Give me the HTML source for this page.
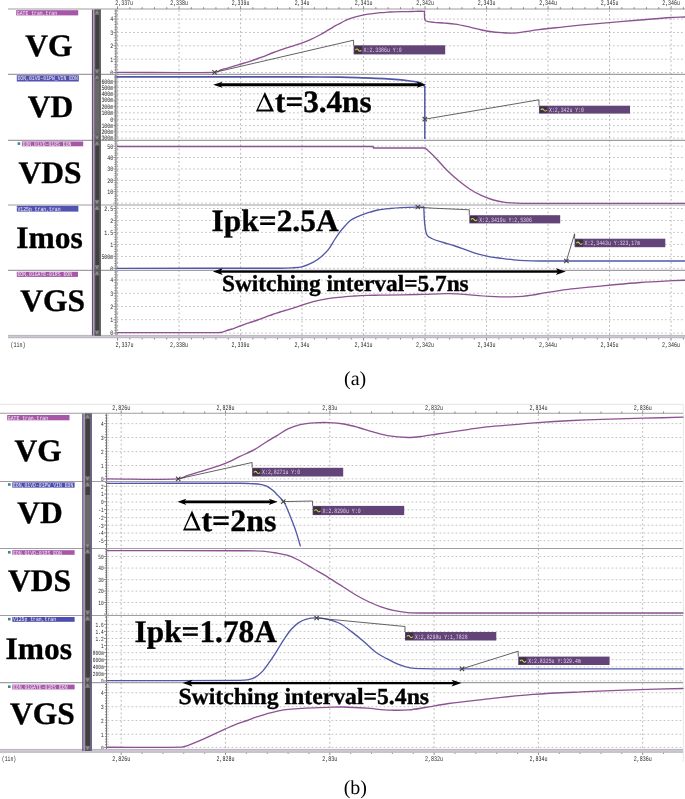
<!DOCTYPE html>
<html><head><meta charset="utf-8"><style>
html,body{margin:0;padding:0;background:#fff;}
svg{display:block;will-change:transform;filter:blur(0.45px);}
text{text-rendering:geometricPrecision;}
</style></head><body>
<svg width="685" height="799" viewBox="0 0 685 799">
<rect width="685" height="799" fill="#fff"/>
<line x1="117" y1="19.1" x2="685" y2="19.1" stroke="#bcbcbc" stroke-width="0.9" stroke-dasharray="1.7,2.3" />
<line x1="117" y1="32.5" x2="685" y2="32.5" stroke="#bcbcbc" stroke-width="0.9" stroke-dasharray="1.7,2.3" />
<line x1="117" y1="45.8" x2="685" y2="45.8" stroke="#bcbcbc" stroke-width="0.9" stroke-dasharray="1.7,2.3" />
<line x1="117" y1="59.2" x2="685" y2="59.2" stroke="#bcbcbc" stroke-width="0.9" stroke-dasharray="1.7,2.3" />
<line x1="117" y1="72.5" x2="685" y2="72.5" stroke="#bcbcbc" stroke-width="0.9" stroke-dasharray="1.7,2.3" />
<line x1="117" y1="81.4" x2="685" y2="81.4" stroke="#bcbcbc" stroke-width="0.9" stroke-dasharray="1.7,2.3" />
<line x1="117" y1="87.5" x2="685" y2="87.5" stroke="#bcbcbc" stroke-width="0.9" stroke-dasharray="1.7,2.3" />
<line x1="117" y1="93.8" x2="685" y2="93.8" stroke="#bcbcbc" stroke-width="0.9" stroke-dasharray="1.7,2.3" />
<line x1="117" y1="100.1" x2="685" y2="100.1" stroke="#bcbcbc" stroke-width="0.9" stroke-dasharray="1.7,2.3" />
<line x1="117" y1="106.6" x2="685" y2="106.6" stroke="#bcbcbc" stroke-width="0.9" stroke-dasharray="1.7,2.3" />
<line x1="117" y1="112.9" x2="685" y2="112.9" stroke="#bcbcbc" stroke-width="0.9" stroke-dasharray="1.7,2.3" />
<line x1="117" y1="119.3" x2="685" y2="119.3" stroke="#bcbcbc" stroke-width="0.9" stroke-dasharray="1.7,2.3" />
<line x1="117" y1="125.6" x2="685" y2="125.6" stroke="#bcbcbc" stroke-width="0.9" stroke-dasharray="1.7,2.3" />
<line x1="117" y1="131.8" x2="685" y2="131.8" stroke="#bcbcbc" stroke-width="0.9" stroke-dasharray="1.7,2.3" />
<line x1="117" y1="138.1" x2="685" y2="138.1" stroke="#bcbcbc" stroke-width="0.9" stroke-dasharray="1.7,2.3" />
<line x1="117" y1="146.2" x2="685" y2="146.2" stroke="#bcbcbc" stroke-width="0.9" stroke-dasharray="1.7,2.3" />
<line x1="117" y1="157.5" x2="685" y2="157.5" stroke="#bcbcbc" stroke-width="0.9" stroke-dasharray="1.7,2.3" />
<line x1="117" y1="169" x2="685" y2="169" stroke="#bcbcbc" stroke-width="0.9" stroke-dasharray="1.7,2.3" />
<line x1="117" y1="180.4" x2="685" y2="180.4" stroke="#bcbcbc" stroke-width="0.9" stroke-dasharray="1.7,2.3" />
<line x1="117" y1="191.7" x2="685" y2="191.7" stroke="#bcbcbc" stroke-width="0.9" stroke-dasharray="1.7,2.3" />
<line x1="117" y1="203.1" x2="685" y2="203.1" stroke="#bcbcbc" stroke-width="0.9" stroke-dasharray="1.7,2.3" />
<line x1="117" y1="208.5" x2="685" y2="208.5" stroke="#bcbcbc" stroke-width="0.9" stroke-dasharray="1.7,2.3" />
<line x1="117" y1="220.5" x2="685" y2="220.5" stroke="#bcbcbc" stroke-width="0.9" stroke-dasharray="1.7,2.3" />
<line x1="117" y1="232.4" x2="685" y2="232.4" stroke="#bcbcbc" stroke-width="0.9" stroke-dasharray="1.7,2.3" />
<line x1="117" y1="244.4" x2="685" y2="244.4" stroke="#bcbcbc" stroke-width="0.9" stroke-dasharray="1.7,2.3" />
<line x1="117" y1="256.5" x2="685" y2="256.5" stroke="#bcbcbc" stroke-width="0.9" stroke-dasharray="1.7,2.3" />
<line x1="117" y1="268.3" x2="685" y2="268.3" stroke="#bcbcbc" stroke-width="0.9" stroke-dasharray="1.7,2.3" />
<line x1="117" y1="280" x2="685" y2="280" stroke="#bcbcbc" stroke-width="0.9" stroke-dasharray="1.7,2.3" />
<line x1="117" y1="293.3" x2="685" y2="293.3" stroke="#bcbcbc" stroke-width="0.9" stroke-dasharray="1.7,2.3" />
<line x1="117" y1="306.5" x2="685" y2="306.5" stroke="#bcbcbc" stroke-width="0.9" stroke-dasharray="1.7,2.3" />
<line x1="117" y1="319.7" x2="685" y2="319.7" stroke="#bcbcbc" stroke-width="0.9" stroke-dasharray="1.7,2.3" />
<line x1="117" y1="333.1" x2="685" y2="333.1" stroke="#bcbcbc" stroke-width="0.9" stroke-dasharray="1.7,2.3" />
<line x1="117.55" y1="10" x2="117.55" y2="335.6" stroke="#acacac" stroke-width="0.9" stroke-dasharray="1.7,2.5" />
<line x1="179.05" y1="10" x2="179.05" y2="335.6" stroke="#acacac" stroke-width="0.9" stroke-dasharray="1.7,2.5" />
<line x1="240.55" y1="10" x2="240.55" y2="335.6" stroke="#acacac" stroke-width="0.9" stroke-dasharray="1.7,2.5" />
<line x1="302.05" y1="10" x2="302.05" y2="335.6" stroke="#acacac" stroke-width="0.9" stroke-dasharray="1.7,2.5" />
<line x1="363.55" y1="10" x2="363.55" y2="335.6" stroke="#acacac" stroke-width="0.9" stroke-dasharray="1.7,2.5" />
<line x1="425.05" y1="10" x2="425.05" y2="335.6" stroke="#acacac" stroke-width="0.9" stroke-dasharray="1.7,2.5" />
<line x1="486.55" y1="10" x2="486.55" y2="335.6" stroke="#acacac" stroke-width="0.9" stroke-dasharray="1.7,2.5" />
<line x1="548.05" y1="10" x2="548.05" y2="335.6" stroke="#acacac" stroke-width="0.9" stroke-dasharray="1.7,2.5" />
<line x1="609.55" y1="10" x2="609.55" y2="335.6" stroke="#acacac" stroke-width="0.9" stroke-dasharray="1.7,2.5" />
<line x1="671.05" y1="10" x2="671.05" y2="335.6" stroke="#acacac" stroke-width="0.9" stroke-dasharray="1.7,2.5" />
<line x1="114.4" y1="11.09" x2="116" y2="11.09" stroke="#707070" stroke-width="0.8" />
<line x1="117" y1="11.09" x2="118.2" y2="11.09" stroke="#b0b0b0" stroke-width="0.7" />
<line x1="114.4" y1="13.76" x2="116" y2="13.76" stroke="#707070" stroke-width="0.8" />
<line x1="117" y1="13.76" x2="118.2" y2="13.76" stroke="#b0b0b0" stroke-width="0.7" />
<line x1="114.4" y1="16.43" x2="116" y2="16.43" stroke="#707070" stroke-width="0.8" />
<line x1="117" y1="16.43" x2="118.2" y2="16.43" stroke="#b0b0b0" stroke-width="0.7" />
<line x1="113.4" y1="19.1" x2="116" y2="19.1" stroke="#707070" stroke-width="0.8" />
<line x1="117" y1="19.1" x2="118.2" y2="19.1" stroke="#b0b0b0" stroke-width="0.7" />
<line x1="114.4" y1="21.77" x2="116" y2="21.77" stroke="#707070" stroke-width="0.8" />
<line x1="117" y1="21.77" x2="118.2" y2="21.77" stroke="#b0b0b0" stroke-width="0.7" />
<line x1="114.4" y1="24.44" x2="116" y2="24.44" stroke="#707070" stroke-width="0.8" />
<line x1="117" y1="24.44" x2="118.2" y2="24.44" stroke="#b0b0b0" stroke-width="0.7" />
<line x1="114.4" y1="27.11" x2="116" y2="27.11" stroke="#707070" stroke-width="0.8" />
<line x1="117" y1="27.11" x2="118.2" y2="27.11" stroke="#b0b0b0" stroke-width="0.7" />
<line x1="114.4" y1="29.78" x2="116" y2="29.78" stroke="#707070" stroke-width="0.8" />
<line x1="117" y1="29.78" x2="118.2" y2="29.78" stroke="#b0b0b0" stroke-width="0.7" />
<line x1="113.4" y1="32.45" x2="116" y2="32.45" stroke="#707070" stroke-width="0.8" />
<line x1="117" y1="32.45" x2="118.2" y2="32.45" stroke="#b0b0b0" stroke-width="0.7" />
<line x1="114.4" y1="35.12" x2="116" y2="35.12" stroke="#707070" stroke-width="0.8" />
<line x1="117" y1="35.12" x2="118.2" y2="35.12" stroke="#b0b0b0" stroke-width="0.7" />
<line x1="114.4" y1="37.79" x2="116" y2="37.79" stroke="#707070" stroke-width="0.8" />
<line x1="117" y1="37.79" x2="118.2" y2="37.79" stroke="#b0b0b0" stroke-width="0.7" />
<line x1="114.4" y1="40.46" x2="116" y2="40.46" stroke="#707070" stroke-width="0.8" />
<line x1="117" y1="40.46" x2="118.2" y2="40.46" stroke="#b0b0b0" stroke-width="0.7" />
<line x1="114.4" y1="43.13" x2="116" y2="43.13" stroke="#707070" stroke-width="0.8" />
<line x1="117" y1="43.13" x2="118.2" y2="43.13" stroke="#b0b0b0" stroke-width="0.7" />
<line x1="113.4" y1="45.8" x2="116" y2="45.8" stroke="#707070" stroke-width="0.8" />
<line x1="117" y1="45.8" x2="118.2" y2="45.8" stroke="#b0b0b0" stroke-width="0.7" />
<line x1="114.4" y1="48.47" x2="116" y2="48.47" stroke="#707070" stroke-width="0.8" />
<line x1="117" y1="48.47" x2="118.2" y2="48.47" stroke="#b0b0b0" stroke-width="0.7" />
<line x1="114.4" y1="51.14" x2="116" y2="51.14" stroke="#707070" stroke-width="0.8" />
<line x1="117" y1="51.14" x2="118.2" y2="51.14" stroke="#b0b0b0" stroke-width="0.7" />
<line x1="114.4" y1="53.81" x2="116" y2="53.81" stroke="#707070" stroke-width="0.8" />
<line x1="117" y1="53.81" x2="118.2" y2="53.81" stroke="#b0b0b0" stroke-width="0.7" />
<line x1="114.4" y1="56.48" x2="116" y2="56.48" stroke="#707070" stroke-width="0.8" />
<line x1="117" y1="56.48" x2="118.2" y2="56.48" stroke="#b0b0b0" stroke-width="0.7" />
<line x1="113.4" y1="59.15" x2="116" y2="59.15" stroke="#707070" stroke-width="0.8" />
<line x1="117" y1="59.15" x2="118.2" y2="59.15" stroke="#b0b0b0" stroke-width="0.7" />
<line x1="114.4" y1="61.82" x2="116" y2="61.82" stroke="#707070" stroke-width="0.8" />
<line x1="117" y1="61.82" x2="118.2" y2="61.82" stroke="#b0b0b0" stroke-width="0.7" />
<line x1="114.4" y1="64.49" x2="116" y2="64.49" stroke="#707070" stroke-width="0.8" />
<line x1="117" y1="64.49" x2="118.2" y2="64.49" stroke="#b0b0b0" stroke-width="0.7" />
<line x1="114.4" y1="67.16" x2="116" y2="67.16" stroke="#707070" stroke-width="0.8" />
<line x1="117" y1="67.16" x2="118.2" y2="67.16" stroke="#b0b0b0" stroke-width="0.7" />
<line x1="114.4" y1="69.83" x2="116" y2="69.83" stroke="#707070" stroke-width="0.8" />
<line x1="117" y1="69.83" x2="118.2" y2="69.83" stroke="#b0b0b0" stroke-width="0.7" />
<line x1="113.4" y1="72.5" x2="116" y2="72.5" stroke="#707070" stroke-width="0.8" />
<line x1="117" y1="72.5" x2="118.2" y2="72.5" stroke="#b0b0b0" stroke-width="0.7" />
<text x="113.2" y="21.4" font-family="Liberation Mono" font-size="6.8" font-weight="normal" text-anchor="end" fill="#262626" textLength="2.95" lengthAdjust="spacingAndGlyphs" >4</text>
<text x="113.2" y="34.8" font-family="Liberation Mono" font-size="6.8" font-weight="normal" text-anchor="end" fill="#262626" textLength="2.95" lengthAdjust="spacingAndGlyphs" >3</text>
<text x="113.2" y="48.1" font-family="Liberation Mono" font-size="6.8" font-weight="normal" text-anchor="end" fill="#262626" textLength="2.95" lengthAdjust="spacingAndGlyphs" >2</text>
<text x="113.2" y="61.5" font-family="Liberation Mono" font-size="6.8" font-weight="normal" text-anchor="end" fill="#262626" textLength="2.95" lengthAdjust="spacingAndGlyphs" >1</text>
<text x="113.2" y="74.8" font-family="Liberation Mono" font-size="6.8" font-weight="normal" text-anchor="end" fill="#262626" textLength="2.95" lengthAdjust="spacingAndGlyphs" >0</text>
<line x1="114.4" y1="75.1" x2="116" y2="75.1" stroke="#707070" stroke-width="0.8" />
<line x1="117" y1="75.1" x2="118.2" y2="75.1" stroke="#b0b0b0" stroke-width="0.7" />
<line x1="114.4" y1="76.36" x2="116" y2="76.36" stroke="#707070" stroke-width="0.8" />
<line x1="117" y1="76.36" x2="118.2" y2="76.36" stroke="#b0b0b0" stroke-width="0.7" />
<line x1="114.4" y1="77.62" x2="116" y2="77.62" stroke="#707070" stroke-width="0.8" />
<line x1="117" y1="77.62" x2="118.2" y2="77.62" stroke="#b0b0b0" stroke-width="0.7" />
<line x1="114.4" y1="78.88" x2="116" y2="78.88" stroke="#707070" stroke-width="0.8" />
<line x1="117" y1="78.88" x2="118.2" y2="78.88" stroke="#b0b0b0" stroke-width="0.7" />
<line x1="114.4" y1="80.14" x2="116" y2="80.14" stroke="#707070" stroke-width="0.8" />
<line x1="117" y1="80.14" x2="118.2" y2="80.14" stroke="#b0b0b0" stroke-width="0.7" />
<line x1="113.4" y1="81.4" x2="116" y2="81.4" stroke="#707070" stroke-width="0.8" />
<line x1="117" y1="81.4" x2="118.2" y2="81.4" stroke="#b0b0b0" stroke-width="0.7" />
<line x1="114.4" y1="82.66" x2="116" y2="82.66" stroke="#707070" stroke-width="0.8" />
<line x1="117" y1="82.66" x2="118.2" y2="82.66" stroke="#b0b0b0" stroke-width="0.7" />
<line x1="114.4" y1="83.92" x2="116" y2="83.92" stroke="#707070" stroke-width="0.8" />
<line x1="117" y1="83.92" x2="118.2" y2="83.92" stroke="#b0b0b0" stroke-width="0.7" />
<line x1="114.4" y1="85.18" x2="116" y2="85.18" stroke="#707070" stroke-width="0.8" />
<line x1="117" y1="85.18" x2="118.2" y2="85.18" stroke="#b0b0b0" stroke-width="0.7" />
<line x1="114.4" y1="86.44" x2="116" y2="86.44" stroke="#707070" stroke-width="0.8" />
<line x1="117" y1="86.44" x2="118.2" y2="86.44" stroke="#b0b0b0" stroke-width="0.7" />
<line x1="113.4" y1="87.7" x2="116" y2="87.7" stroke="#707070" stroke-width="0.8" />
<line x1="117" y1="87.7" x2="118.2" y2="87.7" stroke="#b0b0b0" stroke-width="0.7" />
<line x1="114.4" y1="88.96" x2="116" y2="88.96" stroke="#707070" stroke-width="0.8" />
<line x1="117" y1="88.96" x2="118.2" y2="88.96" stroke="#b0b0b0" stroke-width="0.7" />
<line x1="114.4" y1="90.22" x2="116" y2="90.22" stroke="#707070" stroke-width="0.8" />
<line x1="117" y1="90.22" x2="118.2" y2="90.22" stroke="#b0b0b0" stroke-width="0.7" />
<line x1="114.4" y1="91.48" x2="116" y2="91.48" stroke="#707070" stroke-width="0.8" />
<line x1="117" y1="91.48" x2="118.2" y2="91.48" stroke="#b0b0b0" stroke-width="0.7" />
<line x1="114.4" y1="92.74" x2="116" y2="92.74" stroke="#707070" stroke-width="0.8" />
<line x1="117" y1="92.74" x2="118.2" y2="92.74" stroke="#b0b0b0" stroke-width="0.7" />
<line x1="113.4" y1="94" x2="116" y2="94" stroke="#707070" stroke-width="0.8" />
<line x1="117" y1="94" x2="118.2" y2="94" stroke="#b0b0b0" stroke-width="0.7" />
<line x1="114.4" y1="95.26" x2="116" y2="95.26" stroke="#707070" stroke-width="0.8" />
<line x1="117" y1="95.26" x2="118.2" y2="95.26" stroke="#b0b0b0" stroke-width="0.7" />
<line x1="114.4" y1="96.52" x2="116" y2="96.52" stroke="#707070" stroke-width="0.8" />
<line x1="117" y1="96.52" x2="118.2" y2="96.52" stroke="#b0b0b0" stroke-width="0.7" />
<line x1="114.4" y1="97.78" x2="116" y2="97.78" stroke="#707070" stroke-width="0.8" />
<line x1="117" y1="97.78" x2="118.2" y2="97.78" stroke="#b0b0b0" stroke-width="0.7" />
<line x1="114.4" y1="99.04" x2="116" y2="99.04" stroke="#707070" stroke-width="0.8" />
<line x1="117" y1="99.04" x2="118.2" y2="99.04" stroke="#b0b0b0" stroke-width="0.7" />
<line x1="113.4" y1="100.3" x2="116" y2="100.3" stroke="#707070" stroke-width="0.8" />
<line x1="117" y1="100.3" x2="118.2" y2="100.3" stroke="#b0b0b0" stroke-width="0.7" />
<line x1="114.4" y1="101.56" x2="116" y2="101.56" stroke="#707070" stroke-width="0.8" />
<line x1="117" y1="101.56" x2="118.2" y2="101.56" stroke="#b0b0b0" stroke-width="0.7" />
<line x1="114.4" y1="102.82" x2="116" y2="102.82" stroke="#707070" stroke-width="0.8" />
<line x1="117" y1="102.82" x2="118.2" y2="102.82" stroke="#b0b0b0" stroke-width="0.7" />
<line x1="114.4" y1="104.08" x2="116" y2="104.08" stroke="#707070" stroke-width="0.8" />
<line x1="117" y1="104.08" x2="118.2" y2="104.08" stroke="#b0b0b0" stroke-width="0.7" />
<line x1="114.4" y1="105.34" x2="116" y2="105.34" stroke="#707070" stroke-width="0.8" />
<line x1="117" y1="105.34" x2="118.2" y2="105.34" stroke="#b0b0b0" stroke-width="0.7" />
<line x1="113.4" y1="106.6" x2="116" y2="106.6" stroke="#707070" stroke-width="0.8" />
<line x1="117" y1="106.6" x2="118.2" y2="106.6" stroke="#b0b0b0" stroke-width="0.7" />
<line x1="114.4" y1="107.86" x2="116" y2="107.86" stroke="#707070" stroke-width="0.8" />
<line x1="117" y1="107.86" x2="118.2" y2="107.86" stroke="#b0b0b0" stroke-width="0.7" />
<line x1="114.4" y1="109.12" x2="116" y2="109.12" stroke="#707070" stroke-width="0.8" />
<line x1="117" y1="109.12" x2="118.2" y2="109.12" stroke="#b0b0b0" stroke-width="0.7" />
<line x1="114.4" y1="110.38" x2="116" y2="110.38" stroke="#707070" stroke-width="0.8" />
<line x1="117" y1="110.38" x2="118.2" y2="110.38" stroke="#b0b0b0" stroke-width="0.7" />
<line x1="114.4" y1="111.64" x2="116" y2="111.64" stroke="#707070" stroke-width="0.8" />
<line x1="117" y1="111.64" x2="118.2" y2="111.64" stroke="#b0b0b0" stroke-width="0.7" />
<line x1="113.4" y1="112.9" x2="116" y2="112.9" stroke="#707070" stroke-width="0.8" />
<line x1="117" y1="112.9" x2="118.2" y2="112.9" stroke="#b0b0b0" stroke-width="0.7" />
<line x1="114.4" y1="114.16" x2="116" y2="114.16" stroke="#707070" stroke-width="0.8" />
<line x1="117" y1="114.16" x2="118.2" y2="114.16" stroke="#b0b0b0" stroke-width="0.7" />
<line x1="114.4" y1="115.42" x2="116" y2="115.42" stroke="#707070" stroke-width="0.8" />
<line x1="117" y1="115.42" x2="118.2" y2="115.42" stroke="#b0b0b0" stroke-width="0.7" />
<line x1="114.4" y1="116.68" x2="116" y2="116.68" stroke="#707070" stroke-width="0.8" />
<line x1="117" y1="116.68" x2="118.2" y2="116.68" stroke="#b0b0b0" stroke-width="0.7" />
<line x1="114.4" y1="117.94" x2="116" y2="117.94" stroke="#707070" stroke-width="0.8" />
<line x1="117" y1="117.94" x2="118.2" y2="117.94" stroke="#b0b0b0" stroke-width="0.7" />
<line x1="113.4" y1="119.2" x2="116" y2="119.2" stroke="#707070" stroke-width="0.8" />
<line x1="117" y1="119.2" x2="118.2" y2="119.2" stroke="#b0b0b0" stroke-width="0.7" />
<line x1="114.4" y1="120.46" x2="116" y2="120.46" stroke="#707070" stroke-width="0.8" />
<line x1="117" y1="120.46" x2="118.2" y2="120.46" stroke="#b0b0b0" stroke-width="0.7" />
<line x1="114.4" y1="121.72" x2="116" y2="121.72" stroke="#707070" stroke-width="0.8" />
<line x1="117" y1="121.72" x2="118.2" y2="121.72" stroke="#b0b0b0" stroke-width="0.7" />
<line x1="114.4" y1="122.98" x2="116" y2="122.98" stroke="#707070" stroke-width="0.8" />
<line x1="117" y1="122.98" x2="118.2" y2="122.98" stroke="#b0b0b0" stroke-width="0.7" />
<line x1="114.4" y1="124.24" x2="116" y2="124.24" stroke="#707070" stroke-width="0.8" />
<line x1="117" y1="124.24" x2="118.2" y2="124.24" stroke="#b0b0b0" stroke-width="0.7" />
<line x1="113.4" y1="125.5" x2="116" y2="125.5" stroke="#707070" stroke-width="0.8" />
<line x1="117" y1="125.5" x2="118.2" y2="125.5" stroke="#b0b0b0" stroke-width="0.7" />
<line x1="114.4" y1="126.76" x2="116" y2="126.76" stroke="#707070" stroke-width="0.8" />
<line x1="117" y1="126.76" x2="118.2" y2="126.76" stroke="#b0b0b0" stroke-width="0.7" />
<line x1="114.4" y1="128.02" x2="116" y2="128.02" stroke="#707070" stroke-width="0.8" />
<line x1="117" y1="128.02" x2="118.2" y2="128.02" stroke="#b0b0b0" stroke-width="0.7" />
<line x1="114.4" y1="129.28" x2="116" y2="129.28" stroke="#707070" stroke-width="0.8" />
<line x1="117" y1="129.28" x2="118.2" y2="129.28" stroke="#b0b0b0" stroke-width="0.7" />
<line x1="114.4" y1="130.54" x2="116" y2="130.54" stroke="#707070" stroke-width="0.8" />
<line x1="117" y1="130.54" x2="118.2" y2="130.54" stroke="#b0b0b0" stroke-width="0.7" />
<line x1="113.4" y1="131.8" x2="116" y2="131.8" stroke="#707070" stroke-width="0.8" />
<line x1="117" y1="131.8" x2="118.2" y2="131.8" stroke="#b0b0b0" stroke-width="0.7" />
<line x1="114.4" y1="133.06" x2="116" y2="133.06" stroke="#707070" stroke-width="0.8" />
<line x1="117" y1="133.06" x2="118.2" y2="133.06" stroke="#b0b0b0" stroke-width="0.7" />
<line x1="114.4" y1="134.32" x2="116" y2="134.32" stroke="#707070" stroke-width="0.8" />
<line x1="117" y1="134.32" x2="118.2" y2="134.32" stroke="#b0b0b0" stroke-width="0.7" />
<line x1="114.4" y1="135.58" x2="116" y2="135.58" stroke="#707070" stroke-width="0.8" />
<line x1="117" y1="135.58" x2="118.2" y2="135.58" stroke="#b0b0b0" stroke-width="0.7" />
<line x1="114.4" y1="136.84" x2="116" y2="136.84" stroke="#707070" stroke-width="0.8" />
<line x1="117" y1="136.84" x2="118.2" y2="136.84" stroke="#b0b0b0" stroke-width="0.7" />
<line x1="113.4" y1="138.1" x2="116" y2="138.1" stroke="#707070" stroke-width="0.8" />
<line x1="117" y1="138.1" x2="118.2" y2="138.1" stroke="#b0b0b0" stroke-width="0.7" />
<line x1="114.4" y1="139.36" x2="116" y2="139.36" stroke="#707070" stroke-width="0.8" />
<line x1="117" y1="139.36" x2="118.2" y2="139.36" stroke="#b0b0b0" stroke-width="0.7" />
<text x="113.2" y="83.7" font-family="Liberation Mono" font-size="6.8" font-weight="normal" text-anchor="end" fill="#262626" textLength="11.8" lengthAdjust="spacingAndGlyphs" >600m</text>
<text x="113.2" y="89.8" font-family="Liberation Mono" font-size="6.8" font-weight="normal" text-anchor="end" fill="#262626" textLength="11.8" lengthAdjust="spacingAndGlyphs" >500m</text>
<text x="113.2" y="96.1" font-family="Liberation Mono" font-size="6.8" font-weight="normal" text-anchor="end" fill="#262626" textLength="11.8" lengthAdjust="spacingAndGlyphs" >400m</text>
<text x="113.2" y="102.4" font-family="Liberation Mono" font-size="6.8" font-weight="normal" text-anchor="end" fill="#262626" textLength="11.8" lengthAdjust="spacingAndGlyphs" >300m</text>
<text x="113.2" y="108.9" font-family="Liberation Mono" font-size="6.8" font-weight="normal" text-anchor="end" fill="#262626" textLength="11.8" lengthAdjust="spacingAndGlyphs" >200m</text>
<text x="113.2" y="115.2" font-family="Liberation Mono" font-size="6.8" font-weight="normal" text-anchor="end" fill="#262626" textLength="11.8" lengthAdjust="spacingAndGlyphs" >100m</text>
<text x="113.2" y="121.6" font-family="Liberation Mono" font-size="6.8" font-weight="normal" text-anchor="end" fill="#262626" textLength="2.95" lengthAdjust="spacingAndGlyphs" >0</text>
<text x="113.2" y="127.9" font-family="Liberation Mono" font-size="6.8" font-weight="normal" text-anchor="end" fill="#262626" textLength="14.75" lengthAdjust="spacingAndGlyphs" >-100m</text>
<text x="113.2" y="134.1" font-family="Liberation Mono" font-size="6.8" font-weight="normal" text-anchor="end" fill="#262626" textLength="14.75" lengthAdjust="spacingAndGlyphs" >-200m</text>
<text x="113.2" y="140.4" font-family="Liberation Mono" font-size="6.8" font-weight="normal" text-anchor="end" fill="#262626" textLength="14.75" lengthAdjust="spacingAndGlyphs" >-300m</text>
<line x1="114.4" y1="141.65" x2="116" y2="141.65" stroke="#707070" stroke-width="0.8" />
<line x1="117" y1="141.65" x2="118.2" y2="141.65" stroke="#b0b0b0" stroke-width="0.7" />
<line x1="114.4" y1="143.92" x2="116" y2="143.92" stroke="#707070" stroke-width="0.8" />
<line x1="117" y1="143.92" x2="118.2" y2="143.92" stroke="#b0b0b0" stroke-width="0.7" />
<line x1="113.4" y1="146.2" x2="116" y2="146.2" stroke="#707070" stroke-width="0.8" />
<line x1="117" y1="146.2" x2="118.2" y2="146.2" stroke="#b0b0b0" stroke-width="0.7" />
<line x1="114.4" y1="148.48" x2="116" y2="148.48" stroke="#707070" stroke-width="0.8" />
<line x1="117" y1="148.48" x2="118.2" y2="148.48" stroke="#b0b0b0" stroke-width="0.7" />
<line x1="114.4" y1="150.75" x2="116" y2="150.75" stroke="#707070" stroke-width="0.8" />
<line x1="117" y1="150.75" x2="118.2" y2="150.75" stroke="#b0b0b0" stroke-width="0.7" />
<line x1="114.4" y1="153.03" x2="116" y2="153.03" stroke="#707070" stroke-width="0.8" />
<line x1="117" y1="153.03" x2="118.2" y2="153.03" stroke="#b0b0b0" stroke-width="0.7" />
<line x1="114.4" y1="155.3" x2="116" y2="155.3" stroke="#707070" stroke-width="0.8" />
<line x1="117" y1="155.3" x2="118.2" y2="155.3" stroke="#b0b0b0" stroke-width="0.7" />
<line x1="113.4" y1="157.58" x2="116" y2="157.58" stroke="#707070" stroke-width="0.8" />
<line x1="117" y1="157.58" x2="118.2" y2="157.58" stroke="#b0b0b0" stroke-width="0.7" />
<line x1="114.4" y1="159.86" x2="116" y2="159.86" stroke="#707070" stroke-width="0.8" />
<line x1="117" y1="159.86" x2="118.2" y2="159.86" stroke="#b0b0b0" stroke-width="0.7" />
<line x1="114.4" y1="162.13" x2="116" y2="162.13" stroke="#707070" stroke-width="0.8" />
<line x1="117" y1="162.13" x2="118.2" y2="162.13" stroke="#b0b0b0" stroke-width="0.7" />
<line x1="114.4" y1="164.41" x2="116" y2="164.41" stroke="#707070" stroke-width="0.8" />
<line x1="117" y1="164.41" x2="118.2" y2="164.41" stroke="#b0b0b0" stroke-width="0.7" />
<line x1="114.4" y1="166.68" x2="116" y2="166.68" stroke="#707070" stroke-width="0.8" />
<line x1="117" y1="166.68" x2="118.2" y2="166.68" stroke="#b0b0b0" stroke-width="0.7" />
<line x1="113.4" y1="168.96" x2="116" y2="168.96" stroke="#707070" stroke-width="0.8" />
<line x1="117" y1="168.96" x2="118.2" y2="168.96" stroke="#b0b0b0" stroke-width="0.7" />
<line x1="114.4" y1="171.24" x2="116" y2="171.24" stroke="#707070" stroke-width="0.8" />
<line x1="117" y1="171.24" x2="118.2" y2="171.24" stroke="#b0b0b0" stroke-width="0.7" />
<line x1="114.4" y1="173.51" x2="116" y2="173.51" stroke="#707070" stroke-width="0.8" />
<line x1="117" y1="173.51" x2="118.2" y2="173.51" stroke="#b0b0b0" stroke-width="0.7" />
<line x1="114.4" y1="175.79" x2="116" y2="175.79" stroke="#707070" stroke-width="0.8" />
<line x1="117" y1="175.79" x2="118.2" y2="175.79" stroke="#b0b0b0" stroke-width="0.7" />
<line x1="114.4" y1="178.06" x2="116" y2="178.06" stroke="#707070" stroke-width="0.8" />
<line x1="117" y1="178.06" x2="118.2" y2="178.06" stroke="#b0b0b0" stroke-width="0.7" />
<line x1="113.4" y1="180.34" x2="116" y2="180.34" stroke="#707070" stroke-width="0.8" />
<line x1="117" y1="180.34" x2="118.2" y2="180.34" stroke="#b0b0b0" stroke-width="0.7" />
<line x1="114.4" y1="182.62" x2="116" y2="182.62" stroke="#707070" stroke-width="0.8" />
<line x1="117" y1="182.62" x2="118.2" y2="182.62" stroke="#b0b0b0" stroke-width="0.7" />
<line x1="114.4" y1="184.89" x2="116" y2="184.89" stroke="#707070" stroke-width="0.8" />
<line x1="117" y1="184.89" x2="118.2" y2="184.89" stroke="#b0b0b0" stroke-width="0.7" />
<line x1="114.4" y1="187.17" x2="116" y2="187.17" stroke="#707070" stroke-width="0.8" />
<line x1="117" y1="187.17" x2="118.2" y2="187.17" stroke="#b0b0b0" stroke-width="0.7" />
<line x1="114.4" y1="189.44" x2="116" y2="189.44" stroke="#707070" stroke-width="0.8" />
<line x1="117" y1="189.44" x2="118.2" y2="189.44" stroke="#b0b0b0" stroke-width="0.7" />
<line x1="113.4" y1="191.72" x2="116" y2="191.72" stroke="#707070" stroke-width="0.8" />
<line x1="117" y1="191.72" x2="118.2" y2="191.72" stroke="#b0b0b0" stroke-width="0.7" />
<line x1="114.4" y1="194" x2="116" y2="194" stroke="#707070" stroke-width="0.8" />
<line x1="117" y1="194" x2="118.2" y2="194" stroke="#b0b0b0" stroke-width="0.7" />
<line x1="114.4" y1="196.27" x2="116" y2="196.27" stroke="#707070" stroke-width="0.8" />
<line x1="117" y1="196.27" x2="118.2" y2="196.27" stroke="#b0b0b0" stroke-width="0.7" />
<line x1="114.4" y1="198.55" x2="116" y2="198.55" stroke="#707070" stroke-width="0.8" />
<line x1="117" y1="198.55" x2="118.2" y2="198.55" stroke="#b0b0b0" stroke-width="0.7" />
<line x1="114.4" y1="200.82" x2="116" y2="200.82" stroke="#707070" stroke-width="0.8" />
<line x1="117" y1="200.82" x2="118.2" y2="200.82" stroke="#b0b0b0" stroke-width="0.7" />
<line x1="113.4" y1="203.1" x2="116" y2="203.1" stroke="#707070" stroke-width="0.8" />
<line x1="117" y1="203.1" x2="118.2" y2="203.1" stroke="#b0b0b0" stroke-width="0.7" />
<text x="113.2" y="148.5" font-family="Liberation Mono" font-size="6.8" font-weight="normal" text-anchor="end" fill="#262626" textLength="5.9" lengthAdjust="spacingAndGlyphs" >50</text>
<text x="113.2" y="159.8" font-family="Liberation Mono" font-size="6.8" font-weight="normal" text-anchor="end" fill="#262626" textLength="5.9" lengthAdjust="spacingAndGlyphs" >40</text>
<text x="113.2" y="171.3" font-family="Liberation Mono" font-size="6.8" font-weight="normal" text-anchor="end" fill="#262626" textLength="5.9" lengthAdjust="spacingAndGlyphs" >30</text>
<text x="113.2" y="182.7" font-family="Liberation Mono" font-size="6.8" font-weight="normal" text-anchor="end" fill="#262626" textLength="5.9" lengthAdjust="spacingAndGlyphs" >20</text>
<text x="113.2" y="194" font-family="Liberation Mono" font-size="6.8" font-weight="normal" text-anchor="end" fill="#262626" textLength="5.9" lengthAdjust="spacingAndGlyphs" >10</text>
<line x1="114.4" y1="206.11" x2="116" y2="206.11" stroke="#707070" stroke-width="0.8" />
<line x1="117" y1="206.11" x2="118.2" y2="206.11" stroke="#b0b0b0" stroke-width="0.7" />
<line x1="113.4" y1="208.5" x2="116" y2="208.5" stroke="#707070" stroke-width="0.8" />
<line x1="117" y1="208.5" x2="118.2" y2="208.5" stroke="#b0b0b0" stroke-width="0.7" />
<line x1="114.4" y1="210.89" x2="116" y2="210.89" stroke="#707070" stroke-width="0.8" />
<line x1="117" y1="210.89" x2="118.2" y2="210.89" stroke="#b0b0b0" stroke-width="0.7" />
<line x1="114.4" y1="213.28" x2="116" y2="213.28" stroke="#707070" stroke-width="0.8" />
<line x1="117" y1="213.28" x2="118.2" y2="213.28" stroke="#b0b0b0" stroke-width="0.7" />
<line x1="114.4" y1="215.68" x2="116" y2="215.68" stroke="#707070" stroke-width="0.8" />
<line x1="117" y1="215.68" x2="118.2" y2="215.68" stroke="#b0b0b0" stroke-width="0.7" />
<line x1="114.4" y1="218.07" x2="116" y2="218.07" stroke="#707070" stroke-width="0.8" />
<line x1="117" y1="218.07" x2="118.2" y2="218.07" stroke="#b0b0b0" stroke-width="0.7" />
<line x1="113.4" y1="220.46" x2="116" y2="220.46" stroke="#707070" stroke-width="0.8" />
<line x1="117" y1="220.46" x2="118.2" y2="220.46" stroke="#b0b0b0" stroke-width="0.7" />
<line x1="114.4" y1="222.85" x2="116" y2="222.85" stroke="#707070" stroke-width="0.8" />
<line x1="117" y1="222.85" x2="118.2" y2="222.85" stroke="#b0b0b0" stroke-width="0.7" />
<line x1="114.4" y1="225.24" x2="116" y2="225.24" stroke="#707070" stroke-width="0.8" />
<line x1="117" y1="225.24" x2="118.2" y2="225.24" stroke="#b0b0b0" stroke-width="0.7" />
<line x1="114.4" y1="227.64" x2="116" y2="227.64" stroke="#707070" stroke-width="0.8" />
<line x1="117" y1="227.64" x2="118.2" y2="227.64" stroke="#b0b0b0" stroke-width="0.7" />
<line x1="114.4" y1="230.03" x2="116" y2="230.03" stroke="#707070" stroke-width="0.8" />
<line x1="117" y1="230.03" x2="118.2" y2="230.03" stroke="#b0b0b0" stroke-width="0.7" />
<line x1="113.4" y1="232.42" x2="116" y2="232.42" stroke="#707070" stroke-width="0.8" />
<line x1="117" y1="232.42" x2="118.2" y2="232.42" stroke="#b0b0b0" stroke-width="0.7" />
<line x1="114.4" y1="234.81" x2="116" y2="234.81" stroke="#707070" stroke-width="0.8" />
<line x1="117" y1="234.81" x2="118.2" y2="234.81" stroke="#b0b0b0" stroke-width="0.7" />
<line x1="114.4" y1="237.2" x2="116" y2="237.2" stroke="#707070" stroke-width="0.8" />
<line x1="117" y1="237.2" x2="118.2" y2="237.2" stroke="#b0b0b0" stroke-width="0.7" />
<line x1="114.4" y1="239.6" x2="116" y2="239.6" stroke="#707070" stroke-width="0.8" />
<line x1="117" y1="239.6" x2="118.2" y2="239.6" stroke="#b0b0b0" stroke-width="0.7" />
<line x1="114.4" y1="241.99" x2="116" y2="241.99" stroke="#707070" stroke-width="0.8" />
<line x1="117" y1="241.99" x2="118.2" y2="241.99" stroke="#b0b0b0" stroke-width="0.7" />
<line x1="113.4" y1="244.38" x2="116" y2="244.38" stroke="#707070" stroke-width="0.8" />
<line x1="117" y1="244.38" x2="118.2" y2="244.38" stroke="#b0b0b0" stroke-width="0.7" />
<line x1="114.4" y1="246.77" x2="116" y2="246.77" stroke="#707070" stroke-width="0.8" />
<line x1="117" y1="246.77" x2="118.2" y2="246.77" stroke="#b0b0b0" stroke-width="0.7" />
<line x1="114.4" y1="249.16" x2="116" y2="249.16" stroke="#707070" stroke-width="0.8" />
<line x1="117" y1="249.16" x2="118.2" y2="249.16" stroke="#b0b0b0" stroke-width="0.7" />
<line x1="114.4" y1="251.56" x2="116" y2="251.56" stroke="#707070" stroke-width="0.8" />
<line x1="117" y1="251.56" x2="118.2" y2="251.56" stroke="#b0b0b0" stroke-width="0.7" />
<line x1="114.4" y1="253.95" x2="116" y2="253.95" stroke="#707070" stroke-width="0.8" />
<line x1="117" y1="253.95" x2="118.2" y2="253.95" stroke="#b0b0b0" stroke-width="0.7" />
<line x1="113.4" y1="256.34" x2="116" y2="256.34" stroke="#707070" stroke-width="0.8" />
<line x1="117" y1="256.34" x2="118.2" y2="256.34" stroke="#b0b0b0" stroke-width="0.7" />
<line x1="114.4" y1="258.73" x2="116" y2="258.73" stroke="#707070" stroke-width="0.8" />
<line x1="117" y1="258.73" x2="118.2" y2="258.73" stroke="#b0b0b0" stroke-width="0.7" />
<line x1="114.4" y1="261.12" x2="116" y2="261.12" stroke="#707070" stroke-width="0.8" />
<line x1="117" y1="261.12" x2="118.2" y2="261.12" stroke="#b0b0b0" stroke-width="0.7" />
<line x1="114.4" y1="263.52" x2="116" y2="263.52" stroke="#707070" stroke-width="0.8" />
<line x1="117" y1="263.52" x2="118.2" y2="263.52" stroke="#b0b0b0" stroke-width="0.7" />
<line x1="114.4" y1="265.91" x2="116" y2="265.91" stroke="#707070" stroke-width="0.8" />
<line x1="117" y1="265.91" x2="118.2" y2="265.91" stroke="#b0b0b0" stroke-width="0.7" />
<line x1="113.4" y1="268.3" x2="116" y2="268.3" stroke="#707070" stroke-width="0.8" />
<line x1="117" y1="268.3" x2="118.2" y2="268.3" stroke="#b0b0b0" stroke-width="0.7" />
<text x="113.2" y="210.8" font-family="Liberation Mono" font-size="6.8" font-weight="normal" text-anchor="end" fill="#262626" textLength="8.85" lengthAdjust="spacingAndGlyphs" >2.5</text>
<text x="113.2" y="222.8" font-family="Liberation Mono" font-size="6.8" font-weight="normal" text-anchor="end" fill="#262626" textLength="2.95" lengthAdjust="spacingAndGlyphs" >2</text>
<text x="113.2" y="234.7" font-family="Liberation Mono" font-size="6.8" font-weight="normal" text-anchor="end" fill="#262626" textLength="8.85" lengthAdjust="spacingAndGlyphs" >1.5</text>
<text x="113.2" y="246.7" font-family="Liberation Mono" font-size="6.8" font-weight="normal" text-anchor="end" fill="#262626" textLength="2.95" lengthAdjust="spacingAndGlyphs" >1</text>
<text x="113.2" y="258.8" font-family="Liberation Mono" font-size="6.8" font-weight="normal" text-anchor="end" fill="#262626" textLength="11.8" lengthAdjust="spacingAndGlyphs" >500m</text>
<text x="113.2" y="270.6" font-family="Liberation Mono" font-size="6.8" font-weight="normal" text-anchor="end" fill="#262626" textLength="2.95" lengthAdjust="spacingAndGlyphs" >0</text>
<line x1="114.4" y1="272.03" x2="116" y2="272.03" stroke="#707070" stroke-width="0.8" />
<line x1="117" y1="272.03" x2="118.2" y2="272.03" stroke="#b0b0b0" stroke-width="0.7" />
<line x1="114.4" y1="274.69" x2="116" y2="274.69" stroke="#707070" stroke-width="0.8" />
<line x1="117" y1="274.69" x2="118.2" y2="274.69" stroke="#b0b0b0" stroke-width="0.7" />
<line x1="114.4" y1="277.34" x2="116" y2="277.34" stroke="#707070" stroke-width="0.8" />
<line x1="117" y1="277.34" x2="118.2" y2="277.34" stroke="#b0b0b0" stroke-width="0.7" />
<line x1="113.4" y1="280" x2="116" y2="280" stroke="#707070" stroke-width="0.8" />
<line x1="117" y1="280" x2="118.2" y2="280" stroke="#b0b0b0" stroke-width="0.7" />
<line x1="114.4" y1="282.65" x2="116" y2="282.65" stroke="#707070" stroke-width="0.8" />
<line x1="117" y1="282.65" x2="118.2" y2="282.65" stroke="#b0b0b0" stroke-width="0.7" />
<line x1="114.4" y1="285.31" x2="116" y2="285.31" stroke="#707070" stroke-width="0.8" />
<line x1="117" y1="285.31" x2="118.2" y2="285.31" stroke="#b0b0b0" stroke-width="0.7" />
<line x1="114.4" y1="287.96" x2="116" y2="287.96" stroke="#707070" stroke-width="0.8" />
<line x1="117" y1="287.96" x2="118.2" y2="287.96" stroke="#b0b0b0" stroke-width="0.7" />
<line x1="114.4" y1="290.62" x2="116" y2="290.62" stroke="#707070" stroke-width="0.8" />
<line x1="117" y1="290.62" x2="118.2" y2="290.62" stroke="#b0b0b0" stroke-width="0.7" />
<line x1="113.4" y1="293.27" x2="116" y2="293.27" stroke="#707070" stroke-width="0.8" />
<line x1="117" y1="293.27" x2="118.2" y2="293.27" stroke="#b0b0b0" stroke-width="0.7" />
<line x1="114.4" y1="295.93" x2="116" y2="295.93" stroke="#707070" stroke-width="0.8" />
<line x1="117" y1="295.93" x2="118.2" y2="295.93" stroke="#b0b0b0" stroke-width="0.7" />
<line x1="114.4" y1="298.58" x2="116" y2="298.58" stroke="#707070" stroke-width="0.8" />
<line x1="117" y1="298.58" x2="118.2" y2="298.58" stroke="#b0b0b0" stroke-width="0.7" />
<line x1="114.4" y1="301.24" x2="116" y2="301.24" stroke="#707070" stroke-width="0.8" />
<line x1="117" y1="301.24" x2="118.2" y2="301.24" stroke="#b0b0b0" stroke-width="0.7" />
<line x1="114.4" y1="303.89" x2="116" y2="303.89" stroke="#707070" stroke-width="0.8" />
<line x1="117" y1="303.89" x2="118.2" y2="303.89" stroke="#b0b0b0" stroke-width="0.7" />
<line x1="113.4" y1="306.55" x2="116" y2="306.55" stroke="#707070" stroke-width="0.8" />
<line x1="117" y1="306.55" x2="118.2" y2="306.55" stroke="#b0b0b0" stroke-width="0.7" />
<line x1="114.4" y1="309.2" x2="116" y2="309.2" stroke="#707070" stroke-width="0.8" />
<line x1="117" y1="309.2" x2="118.2" y2="309.2" stroke="#b0b0b0" stroke-width="0.7" />
<line x1="114.4" y1="311.86" x2="116" y2="311.86" stroke="#707070" stroke-width="0.8" />
<line x1="117" y1="311.86" x2="118.2" y2="311.86" stroke="#b0b0b0" stroke-width="0.7" />
<line x1="114.4" y1="314.51" x2="116" y2="314.51" stroke="#707070" stroke-width="0.8" />
<line x1="117" y1="314.51" x2="118.2" y2="314.51" stroke="#b0b0b0" stroke-width="0.7" />
<line x1="114.4" y1="317.17" x2="116" y2="317.17" stroke="#707070" stroke-width="0.8" />
<line x1="117" y1="317.17" x2="118.2" y2="317.17" stroke="#b0b0b0" stroke-width="0.7" />
<line x1="113.4" y1="319.82" x2="116" y2="319.82" stroke="#707070" stroke-width="0.8" />
<line x1="117" y1="319.82" x2="118.2" y2="319.82" stroke="#b0b0b0" stroke-width="0.7" />
<line x1="114.4" y1="322.48" x2="116" y2="322.48" stroke="#707070" stroke-width="0.8" />
<line x1="117" y1="322.48" x2="118.2" y2="322.48" stroke="#b0b0b0" stroke-width="0.7" />
<line x1="114.4" y1="325.13" x2="116" y2="325.13" stroke="#707070" stroke-width="0.8" />
<line x1="117" y1="325.13" x2="118.2" y2="325.13" stroke="#b0b0b0" stroke-width="0.7" />
<line x1="114.4" y1="327.79" x2="116" y2="327.79" stroke="#707070" stroke-width="0.8" />
<line x1="117" y1="327.79" x2="118.2" y2="327.79" stroke="#b0b0b0" stroke-width="0.7" />
<line x1="114.4" y1="330.44" x2="116" y2="330.44" stroke="#707070" stroke-width="0.8" />
<line x1="117" y1="330.44" x2="118.2" y2="330.44" stroke="#b0b0b0" stroke-width="0.7" />
<line x1="113.4" y1="333.1" x2="116" y2="333.1" stroke="#707070" stroke-width="0.8" />
<line x1="117" y1="333.1" x2="118.2" y2="333.1" stroke="#b0b0b0" stroke-width="0.7" />
<text x="113.2" y="282.3" font-family="Liberation Mono" font-size="6.8" font-weight="normal" text-anchor="end" fill="#262626" textLength="2.95" lengthAdjust="spacingAndGlyphs" >4</text>
<text x="113.2" y="295.6" font-family="Liberation Mono" font-size="6.8" font-weight="normal" text-anchor="end" fill="#262626" textLength="2.95" lengthAdjust="spacingAndGlyphs" >3</text>
<text x="113.2" y="308.8" font-family="Liberation Mono" font-size="6.8" font-weight="normal" text-anchor="end" fill="#262626" textLength="2.95" lengthAdjust="spacingAndGlyphs" >2</text>
<text x="113.2" y="322" font-family="Liberation Mono" font-size="6.8" font-weight="normal" text-anchor="end" fill="#262626" textLength="2.95" lengthAdjust="spacingAndGlyphs" >1</text>
<text x="113.2" y="335.4" font-family="Liberation Mono" font-size="6.8" font-weight="normal" text-anchor="end" fill="#262626" textLength="2.95" lengthAdjust="spacingAndGlyphs" >0</text>
<line x1="116" y1="9" x2="116" y2="335.6" stroke="#6a6a6a" stroke-width="1" />
<line x1="8" y1="9" x2="685" y2="9" stroke="#9e9e9e" stroke-width="1.1" />
<line x1="117.55" y1="6.2" x2="117.55" y2="9" stroke="#707070" stroke-width="0.8" />
<line x1="129.85" y1="7.2" x2="129.85" y2="9" stroke="#707070" stroke-width="0.8" />
<line x1="142.15" y1="7.2" x2="142.15" y2="9" stroke="#707070" stroke-width="0.8" />
<line x1="154.45" y1="7.2" x2="154.45" y2="9" stroke="#707070" stroke-width="0.8" />
<line x1="166.75" y1="7.2" x2="166.75" y2="9" stroke="#707070" stroke-width="0.8" />
<line x1="179.05" y1="6.2" x2="179.05" y2="9" stroke="#707070" stroke-width="0.8" />
<line x1="191.35" y1="7.2" x2="191.35" y2="9" stroke="#707070" stroke-width="0.8" />
<line x1="203.65" y1="7.2" x2="203.65" y2="9" stroke="#707070" stroke-width="0.8" />
<line x1="215.95" y1="7.2" x2="215.95" y2="9" stroke="#707070" stroke-width="0.8" />
<line x1="228.25" y1="7.2" x2="228.25" y2="9" stroke="#707070" stroke-width="0.8" />
<line x1="240.55" y1="6.2" x2="240.55" y2="9" stroke="#707070" stroke-width="0.8" />
<line x1="252.85" y1="7.2" x2="252.85" y2="9" stroke="#707070" stroke-width="0.8" />
<line x1="265.15" y1="7.2" x2="265.15" y2="9" stroke="#707070" stroke-width="0.8" />
<line x1="277.45" y1="7.2" x2="277.45" y2="9" stroke="#707070" stroke-width="0.8" />
<line x1="289.75" y1="7.2" x2="289.75" y2="9" stroke="#707070" stroke-width="0.8" />
<line x1="302.05" y1="6.2" x2="302.05" y2="9" stroke="#707070" stroke-width="0.8" />
<line x1="314.35" y1="7.2" x2="314.35" y2="9" stroke="#707070" stroke-width="0.8" />
<line x1="326.65" y1="7.2" x2="326.65" y2="9" stroke="#707070" stroke-width="0.8" />
<line x1="338.95" y1="7.2" x2="338.95" y2="9" stroke="#707070" stroke-width="0.8" />
<line x1="351.25" y1="7.2" x2="351.25" y2="9" stroke="#707070" stroke-width="0.8" />
<line x1="363.55" y1="6.2" x2="363.55" y2="9" stroke="#707070" stroke-width="0.8" />
<line x1="375.85" y1="7.2" x2="375.85" y2="9" stroke="#707070" stroke-width="0.8" />
<line x1="388.15" y1="7.2" x2="388.15" y2="9" stroke="#707070" stroke-width="0.8" />
<line x1="400.45" y1="7.2" x2="400.45" y2="9" stroke="#707070" stroke-width="0.8" />
<line x1="412.75" y1="7.2" x2="412.75" y2="9" stroke="#707070" stroke-width="0.8" />
<line x1="425.05" y1="6.2" x2="425.05" y2="9" stroke="#707070" stroke-width="0.8" />
<line x1="437.35" y1="7.2" x2="437.35" y2="9" stroke="#707070" stroke-width="0.8" />
<line x1="449.65" y1="7.2" x2="449.65" y2="9" stroke="#707070" stroke-width="0.8" />
<line x1="461.95" y1="7.2" x2="461.95" y2="9" stroke="#707070" stroke-width="0.8" />
<line x1="474.25" y1="7.2" x2="474.25" y2="9" stroke="#707070" stroke-width="0.8" />
<line x1="486.55" y1="6.2" x2="486.55" y2="9" stroke="#707070" stroke-width="0.8" />
<line x1="498.85" y1="7.2" x2="498.85" y2="9" stroke="#707070" stroke-width="0.8" />
<line x1="511.15" y1="7.2" x2="511.15" y2="9" stroke="#707070" stroke-width="0.8" />
<line x1="523.45" y1="7.2" x2="523.45" y2="9" stroke="#707070" stroke-width="0.8" />
<line x1="535.75" y1="7.2" x2="535.75" y2="9" stroke="#707070" stroke-width="0.8" />
<line x1="548.05" y1="6.2" x2="548.05" y2="9" stroke="#707070" stroke-width="0.8" />
<line x1="560.35" y1="7.2" x2="560.35" y2="9" stroke="#707070" stroke-width="0.8" />
<line x1="572.65" y1="7.2" x2="572.65" y2="9" stroke="#707070" stroke-width="0.8" />
<line x1="584.95" y1="7.2" x2="584.95" y2="9" stroke="#707070" stroke-width="0.8" />
<line x1="597.25" y1="7.2" x2="597.25" y2="9" stroke="#707070" stroke-width="0.8" />
<line x1="609.55" y1="6.2" x2="609.55" y2="9" stroke="#707070" stroke-width="0.8" />
<line x1="621.85" y1="7.2" x2="621.85" y2="9" stroke="#707070" stroke-width="0.8" />
<line x1="634.15" y1="7.2" x2="634.15" y2="9" stroke="#707070" stroke-width="0.8" />
<line x1="646.45" y1="7.2" x2="646.45" y2="9" stroke="#707070" stroke-width="0.8" />
<line x1="658.75" y1="7.2" x2="658.75" y2="9" stroke="#707070" stroke-width="0.8" />
<line x1="671.05" y1="6.2" x2="671.05" y2="9" stroke="#707070" stroke-width="0.8" />
<line x1="683.35" y1="7.2" x2="683.35" y2="9" stroke="#707070" stroke-width="0.8" />
<text x="115.3" y="5" font-family="Liberation Mono" font-size="7.2" font-weight="normal" text-anchor="start" fill="#262626" textLength="17.7" lengthAdjust="spacingAndGlyphs" >2,337u</text>
<text x="179.05" y="5" font-family="Liberation Mono" font-size="7.2" font-weight="normal" text-anchor="middle" fill="#262626" textLength="17.7" lengthAdjust="spacingAndGlyphs" >2,338u</text>
<text x="240.55" y="5" font-family="Liberation Mono" font-size="7.2" font-weight="normal" text-anchor="middle" fill="#262626" textLength="17.7" lengthAdjust="spacingAndGlyphs" >2,339u</text>
<text x="302.05" y="5" font-family="Liberation Mono" font-size="7.2" font-weight="normal" text-anchor="middle" fill="#262626" textLength="14.75" lengthAdjust="spacingAndGlyphs" >2,34u</text>
<text x="363.55" y="5" font-family="Liberation Mono" font-size="7.2" font-weight="normal" text-anchor="middle" fill="#262626" textLength="17.7" lengthAdjust="spacingAndGlyphs" >2,341u</text>
<text x="425.05" y="5" font-family="Liberation Mono" font-size="7.2" font-weight="normal" text-anchor="middle" fill="#262626" textLength="17.7" lengthAdjust="spacingAndGlyphs" >2,342u</text>
<text x="486.55" y="5" font-family="Liberation Mono" font-size="7.2" font-weight="normal" text-anchor="middle" fill="#262626" textLength="17.7" lengthAdjust="spacingAndGlyphs" >2,343u</text>
<text x="548.05" y="5" font-family="Liberation Mono" font-size="7.2" font-weight="normal" text-anchor="middle" fill="#262626" textLength="17.7" lengthAdjust="spacingAndGlyphs" >2,344u</text>
<text x="609.55" y="5" font-family="Liberation Mono" font-size="7.2" font-weight="normal" text-anchor="middle" fill="#262626" textLength="17.7" lengthAdjust="spacingAndGlyphs" >2,345u</text>
<text x="671.05" y="5" font-family="Liberation Mono" font-size="7.2" font-weight="normal" text-anchor="middle" fill="#262626" textLength="17.7" lengthAdjust="spacingAndGlyphs" >2,346u</text>
<line x1="8" y1="74.4" x2="685" y2="74.4" stroke="#a29ca6" stroke-width="1.2" />
<line x1="8" y1="140.4" x2="685" y2="140.4" stroke="#a29ca6" stroke-width="1.2" />
<line x1="8" y1="205" x2="685" y2="205" stroke="#a29ca6" stroke-width="1.2" />
<line x1="8" y1="270.3" x2="685" y2="270.3" stroke="#a29ca6" stroke-width="1.2" />
<rect x="8" y="335.2" width="677" height="2.8" fill="#cfc8d4" />
<line x1="8" y1="335.4" x2="685" y2="335.4" stroke="#b0a8b6" stroke-width="0.7" />
<line x1="8" y1="337.8" x2="685" y2="337.8" stroke="#b0a8b6" stroke-width="0.7" />
<line x1="117.55" y1="338" x2="117.55" y2="340.5" stroke="#707070" stroke-width="0.8" />
<line x1="129.85" y1="338" x2="129.85" y2="339.5" stroke="#707070" stroke-width="0.8" />
<line x1="142.15" y1="338" x2="142.15" y2="339.5" stroke="#707070" stroke-width="0.8" />
<line x1="154.45" y1="338" x2="154.45" y2="339.5" stroke="#707070" stroke-width="0.8" />
<line x1="166.75" y1="338" x2="166.75" y2="339.5" stroke="#707070" stroke-width="0.8" />
<line x1="179.05" y1="338" x2="179.05" y2="340.5" stroke="#707070" stroke-width="0.8" />
<line x1="191.35" y1="338" x2="191.35" y2="339.5" stroke="#707070" stroke-width="0.8" />
<line x1="203.65" y1="338" x2="203.65" y2="339.5" stroke="#707070" stroke-width="0.8" />
<line x1="215.95" y1="338" x2="215.95" y2="339.5" stroke="#707070" stroke-width="0.8" />
<line x1="228.25" y1="338" x2="228.25" y2="339.5" stroke="#707070" stroke-width="0.8" />
<line x1="240.55" y1="338" x2="240.55" y2="340.5" stroke="#707070" stroke-width="0.8" />
<line x1="252.85" y1="338" x2="252.85" y2="339.5" stroke="#707070" stroke-width="0.8" />
<line x1="265.15" y1="338" x2="265.15" y2="339.5" stroke="#707070" stroke-width="0.8" />
<line x1="277.45" y1="338" x2="277.45" y2="339.5" stroke="#707070" stroke-width="0.8" />
<line x1="289.75" y1="338" x2="289.75" y2="339.5" stroke="#707070" stroke-width="0.8" />
<line x1="302.05" y1="338" x2="302.05" y2="340.5" stroke="#707070" stroke-width="0.8" />
<line x1="314.35" y1="338" x2="314.35" y2="339.5" stroke="#707070" stroke-width="0.8" />
<line x1="326.65" y1="338" x2="326.65" y2="339.5" stroke="#707070" stroke-width="0.8" />
<line x1="338.95" y1="338" x2="338.95" y2="339.5" stroke="#707070" stroke-width="0.8" />
<line x1="351.25" y1="338" x2="351.25" y2="339.5" stroke="#707070" stroke-width="0.8" />
<line x1="363.55" y1="338" x2="363.55" y2="340.5" stroke="#707070" stroke-width="0.8" />
<line x1="375.85" y1="338" x2="375.85" y2="339.5" stroke="#707070" stroke-width="0.8" />
<line x1="388.15" y1="338" x2="388.15" y2="339.5" stroke="#707070" stroke-width="0.8" />
<line x1="400.45" y1="338" x2="400.45" y2="339.5" stroke="#707070" stroke-width="0.8" />
<line x1="412.75" y1="338" x2="412.75" y2="339.5" stroke="#707070" stroke-width="0.8" />
<line x1="425.05" y1="338" x2="425.05" y2="340.5" stroke="#707070" stroke-width="0.8" />
<line x1="437.35" y1="338" x2="437.35" y2="339.5" stroke="#707070" stroke-width="0.8" />
<line x1="449.65" y1="338" x2="449.65" y2="339.5" stroke="#707070" stroke-width="0.8" />
<line x1="461.95" y1="338" x2="461.95" y2="339.5" stroke="#707070" stroke-width="0.8" />
<line x1="474.25" y1="338" x2="474.25" y2="339.5" stroke="#707070" stroke-width="0.8" />
<line x1="486.55" y1="338" x2="486.55" y2="340.5" stroke="#707070" stroke-width="0.8" />
<line x1="498.85" y1="338" x2="498.85" y2="339.5" stroke="#707070" stroke-width="0.8" />
<line x1="511.15" y1="338" x2="511.15" y2="339.5" stroke="#707070" stroke-width="0.8" />
<line x1="523.45" y1="338" x2="523.45" y2="339.5" stroke="#707070" stroke-width="0.8" />
<line x1="535.75" y1="338" x2="535.75" y2="339.5" stroke="#707070" stroke-width="0.8" />
<line x1="548.05" y1="338" x2="548.05" y2="340.5" stroke="#707070" stroke-width="0.8" />
<line x1="560.35" y1="338" x2="560.35" y2="339.5" stroke="#707070" stroke-width="0.8" />
<line x1="572.65" y1="338" x2="572.65" y2="339.5" stroke="#707070" stroke-width="0.8" />
<line x1="584.95" y1="338" x2="584.95" y2="339.5" stroke="#707070" stroke-width="0.8" />
<line x1="597.25" y1="338" x2="597.25" y2="339.5" stroke="#707070" stroke-width="0.8" />
<line x1="609.55" y1="338" x2="609.55" y2="340.5" stroke="#707070" stroke-width="0.8" />
<line x1="621.85" y1="338" x2="621.85" y2="339.5" stroke="#707070" stroke-width="0.8" />
<line x1="634.15" y1="338" x2="634.15" y2="339.5" stroke="#707070" stroke-width="0.8" />
<line x1="646.45" y1="338" x2="646.45" y2="339.5" stroke="#707070" stroke-width="0.8" />
<line x1="658.75" y1="338" x2="658.75" y2="339.5" stroke="#707070" stroke-width="0.8" />
<line x1="671.05" y1="338" x2="671.05" y2="340.5" stroke="#707070" stroke-width="0.8" />
<line x1="683.35" y1="338" x2="683.35" y2="339.5" stroke="#707070" stroke-width="0.8" />
<text x="115.5" y="347" font-family="Liberation Mono" font-size="7.2" font-weight="normal" text-anchor="start" fill="#262626" textLength="18" lengthAdjust="spacingAndGlyphs" >2,337u</text>
<text x="179.05" y="347" font-family="Liberation Mono" font-size="7.2" font-weight="normal" text-anchor="middle" fill="#262626" textLength="18" lengthAdjust="spacingAndGlyphs" >2,338u</text>
<text x="240.55" y="347" font-family="Liberation Mono" font-size="7.2" font-weight="normal" text-anchor="middle" fill="#262626" textLength="18" lengthAdjust="spacingAndGlyphs" >2,339u</text>
<text x="302.05" y="347" font-family="Liberation Mono" font-size="7.2" font-weight="normal" text-anchor="middle" fill="#262626" textLength="15" lengthAdjust="spacingAndGlyphs" >2,34u</text>
<text x="363.55" y="347" font-family="Liberation Mono" font-size="7.2" font-weight="normal" text-anchor="middle" fill="#262626" textLength="18" lengthAdjust="spacingAndGlyphs" >2,341u</text>
<text x="425.05" y="347" font-family="Liberation Mono" font-size="7.2" font-weight="normal" text-anchor="middle" fill="#262626" textLength="18" lengthAdjust="spacingAndGlyphs" >2,342u</text>
<text x="486.55" y="347" font-family="Liberation Mono" font-size="7.2" font-weight="normal" text-anchor="middle" fill="#262626" textLength="18" lengthAdjust="spacingAndGlyphs" >2,343u</text>
<text x="548.05" y="347" font-family="Liberation Mono" font-size="7.2" font-weight="normal" text-anchor="middle" fill="#262626" textLength="18" lengthAdjust="spacingAndGlyphs" >2,344u</text>
<text x="609.55" y="347" font-family="Liberation Mono" font-size="7.2" font-weight="normal" text-anchor="middle" fill="#262626" textLength="18" lengthAdjust="spacingAndGlyphs" >2,345u</text>
<text x="671.05" y="347" font-family="Liberation Mono" font-size="7.2" font-weight="normal" text-anchor="middle" fill="#262626" textLength="18" lengthAdjust="spacingAndGlyphs" >2,346u</text>
<text x="10.6" y="347" font-family="Liberation Mono" font-size="7.2" font-weight="normal" text-anchor="start" fill="#262626" textLength="15" lengthAdjust="spacingAndGlyphs" >(1in)</text>
<rect x="91.9" y="9.6" width="1.5" height="326" fill="#684c7c" />
<rect x="93.4" y="9.6" width="1.3" height="326" fill="#a595b0" />
<rect x="94.7" y="9.6" width="6.3" height="326" fill="#3f413f" />
<rect x="94.7" y="9.6" width="0.9" height="326" fill="#575757" />
<rect x="99.3" y="9.6" width="1.7" height="326" fill="#666468" />
<rect x="94.7" y="9.8" width="4.6" height="4.4" fill="#5e5e5e" />
<line x1="94.7" y1="14.2" x2="99.3" y2="14.2" stroke="#8a8a8a" stroke-width="0.8" />
<path d="M95.1,13.6 L97,10.4 L98.9,13.6Z" fill="#9a9a9a" opacity="0.8"/>
<rect x="94.7" y="69.8" width="4.6" height="4.4" fill="#5e5e5e" />
<line x1="94.7" y1="69.8" x2="99.3" y2="69.8" stroke="#8a8a8a" stroke-width="0.8" />
<path d="M95.1,70.4 L97,73.6 L98.9,70.4Z" fill="#9a9a9a" opacity="0.8"/>
<rect x="94.7" y="74.6" width="4.6" height="4.4" fill="#5e5e5e" />
<line x1="94.7" y1="79" x2="99.3" y2="79" stroke="#8a8a8a" stroke-width="0.8" />
<path d="M95.1,78.4 L97,75.2 L98.9,78.4Z" fill="#9a9a9a" opacity="0.8"/>
<rect x="94.7" y="135.8" width="4.6" height="4.4" fill="#5e5e5e" />
<line x1="94.7" y1="135.8" x2="99.3" y2="135.8" stroke="#8a8a8a" stroke-width="0.8" />
<path d="M95.1,136.4 L97,139.6 L98.9,136.4Z" fill="#9a9a9a" opacity="0.8"/>
<rect x="94.7" y="140.6" width="4.6" height="4.4" fill="#5e5e5e" />
<line x1="94.7" y1="145" x2="99.3" y2="145" stroke="#8a8a8a" stroke-width="0.8" />
<path d="M95.1,144.4 L97,141.2 L98.9,144.4Z" fill="#9a9a9a" opacity="0.8"/>
<rect x="94.7" y="200.4" width="4.6" height="4.4" fill="#5e5e5e" />
<line x1="94.7" y1="200.4" x2="99.3" y2="200.4" stroke="#8a8a8a" stroke-width="0.8" />
<path d="M95.1,201 L97,204.2 L98.9,201Z" fill="#9a9a9a" opacity="0.8"/>
<rect x="94.7" y="205.2" width="4.6" height="4.4" fill="#5e5e5e" />
<line x1="94.7" y1="209.6" x2="99.3" y2="209.6" stroke="#8a8a8a" stroke-width="0.8" />
<path d="M95.1,209 L97,205.8 L98.9,209Z" fill="#9a9a9a" opacity="0.8"/>
<rect x="94.7" y="265.7" width="4.6" height="4.4" fill="#5e5e5e" />
<line x1="94.7" y1="265.7" x2="99.3" y2="265.7" stroke="#8a8a8a" stroke-width="0.8" />
<path d="M95.1,266.3 L97,269.5 L98.9,266.3Z" fill="#9a9a9a" opacity="0.8"/>
<rect x="94.7" y="270.5" width="4.6" height="4.4" fill="#5e5e5e" />
<line x1="94.7" y1="274.9" x2="99.3" y2="274.9" stroke="#8a8a8a" stroke-width="0.8" />
<path d="M95.1,274.3 L97,271.1 L98.9,274.3Z" fill="#9a9a9a" opacity="0.8"/>
<rect x="94.7" y="331" width="4.6" height="4.4" fill="#5e5e5e" />
<line x1="94.7" y1="331" x2="99.3" y2="331" stroke="#8a8a8a" stroke-width="0.8" />
<path d="M95.1,331.6 L97,334.8 L98.9,331.6Z" fill="#9a9a9a" opacity="0.8"/>
<rect x="94.6" y="80.3" width="5" height="54.5" fill="#676767" />
<rect x="16.2" y="10.2" width="62" height="5.2" fill="#a756a8" />
<text x="16.8" y="14.8" font-family="Liberation Mono" font-size="6" font-weight="normal" text-anchor="start" fill="#f2eaf6" textLength="40.32" lengthAdjust="spacingAndGlyphs" >GATE tran,tran</text>
<rect x="16.8" y="75.3" width="62" height="6.2" fill="#5153b0" />
<text x="17.4" y="80.4" font-family="Liberation Mono" font-size="6" font-weight="normal" text-anchor="start" fill="#f2eaf6" textLength="60.48" lengthAdjust="spacingAndGlyphs" >EON,01VD-01PW_VIN EON</text>
<rect x="17.6" y="142.3" width="2.6" height="2.6" fill="#3a8a80" />
<rect x="21.9" y="141.5" width="61.3" height="4.8" fill="#a756a8" />
<text x="22.5" y="145.9" font-family="Liberation Mono" font-size="6" font-weight="normal" text-anchor="start" fill="#f2eaf6" textLength="48.96" lengthAdjust="spacingAndGlyphs" >EON,01VD-01RS EON</text>
<rect x="16.8" y="205.8" width="61.6" height="5.8" fill="#5153b0" />
<text x="17.4" y="210.7" font-family="Liberation Mono" font-size="6" font-weight="normal" text-anchor="start" fill="#f2eaf6" textLength="43.2" lengthAdjust="spacingAndGlyphs" >V125p tran,tran</text>
<rect x="16.8" y="271.8" width="61.2" height="5.1" fill="#a756a8" />
<text x="17.4" y="276.35" font-family="Liberation Mono" font-size="6" font-weight="normal" text-anchor="start" fill="#f2eaf6" textLength="54.72" lengthAdjust="spacingAndGlyphs" >EON,01GATE-01RS EON</text>
<text x="48.8" y="56" font-family="Liberation Serif" font-size="31.5" font-weight="bold" text-anchor="middle" fill="#000"  stroke="#000" stroke-width="0.35">VG</text>
<text x="50.4" y="117" font-family="Liberation Serif" font-size="31.5" font-weight="bold" text-anchor="middle" fill="#000"  stroke="#000" stroke-width="0.35">VD</text>
<text x="49.9" y="183.3" font-family="Liberation Serif" font-size="31.5" font-weight="bold" text-anchor="middle" fill="#000"  stroke="#000" stroke-width="0.35">VDS</text>
<text x="49.4" y="247.7" font-family="Liberation Serif" font-size="31.5" font-weight="bold" text-anchor="middle" fill="#000"  stroke="#000" stroke-width="0.35">Imos</text>
<text x="52.7" y="310.7" font-family="Liberation Serif" font-size="31.5" font-weight="bold" text-anchor="middle" fill="#000"  stroke="#000" stroke-width="0.35">VGS</text>
<path d="M117,72.3 C149.53,72.3 182.07,73.02 214.6,72.3 C216.8,72.25 218.71,70.69 220.8,70 C222.74,69.36 224.74,68.88 226.7,68.3 C230.6,67.15 234.5,65.97 238.4,64.8 C242.27,63.64 246.16,62.55 250,61.3 C253.93,60.02 257.83,58.65 261.7,57.2 C265.63,55.72 269.47,53.98 273.4,52.5 C277.27,51.05 281.19,49.74 285.1,48.4 C286.73,47.84 288.36,47.31 290,46.8 C293.39,45.74 296.85,44.88 300.2,43.7 C303.66,42.48 307.06,41.1 310.4,39.6 C313.9,38.03 317.31,36.28 320.7,34.5 C322.45,33.58 324.11,32.51 325.8,31.5 C327.51,30.48 329.2,29.43 330.9,28.4 C332.6,27.37 334.26,26.26 336,25.3 C337.66,24.39 339.41,23.65 341.1,22.8 C342.81,21.95 344.46,20.98 346.2,20.2 C347.86,19.45 349.58,18.81 351.3,18.2 C352.98,17.61 354.68,17.07 356.4,16.6 C358.12,16.13 359.86,15.76 361.6,15.4 C363.76,14.96 365.92,14.55 368.1,14.2 C370.29,13.85 372.5,13.57 374.7,13.3 C376.9,13.03 379.1,12.79 381.3,12.6 C383.46,12.42 385.63,12.33 387.8,12.2 C390,12.07 392.2,11.87 394.4,11.8 C398.8,11.67 403.2,11.7 407.6,11.6 C410.2,11.54 412.8,11.35 415.4,11.3 C418.27,11.25 421.13,11.3 424,11.3" fill="none" stroke="#8c5292" stroke-width="1.35" stroke-linejoin="round" stroke-linecap="round" />
<path d="M424.4,11.3 C424.6,14.23 424.19,17.27 425,20.1 C425.24,20.95 426.45,21.19 427.3,21.4 C429.42,21.93 431.62,22.09 433.8,22.3 C437.53,22.66 441.27,22.78 445,23.1 C448.34,23.38 451.69,23.6 455,24.1 C458.93,24.7 462.82,25.55 466.7,26.4 C470.62,27.25 474.48,28.34 478.4,29.2 C482.25,30.04 486.1,30.92 490,31.5 C493.91,32.08 497.86,32.43 501.8,32.7 C505.66,32.96 509.53,33.27 513.4,33.1 C517.29,32.93 521.14,32.23 525,31.7 C528.94,31.16 532.86,30.44 536.8,29.9 C540.69,29.37 544.6,28.93 548.5,28.5 C552.4,28.07 556.3,27.71 560.2,27.3 C566.8,26.61 573.39,25.84 580,25.2 C589.66,24.27 599.33,23.44 609,22.6 C619.33,21.7 629.67,20.85 640,20 C650.33,19.15 660.66,18.19 671,17.5 C675.66,17.19 680.33,17.17 685,17" fill="none" stroke="#8c5292" stroke-width="1.35" stroke-linejoin="round" stroke-linecap="round" />
<path d="M117,76.8 C161.33,76.8 205.67,76.78 250,76.8 C266.67,76.81 283.33,76.83 300,76.9 C313.33,76.96 326.67,77.01 340,77.2 C347.3,77.31 354.6,77.57 361.9,77.8 C369.2,78.03 376.5,78.24 383.8,78.6 C388.67,78.84 393.54,79.16 398.4,79.6 C402.31,79.96 406.21,80.47 410.1,81 C412.54,81.33 414.98,81.7 417.4,82.2 C418.89,82.51 420.44,82.72 421.8,83.4 C422.71,83.85 423.39,84.69 424,85.5 C424.32,85.92 424.33,86.5 424.5,87" fill="none" stroke="#5058a8" stroke-width="1.7" stroke-linejoin="round" stroke-linecap="round" />
<line x1="424.8" y1="86" x2="424.8" y2="139" stroke="#5058a8" stroke-width="1.5" />
<polyline points="117,146.4 373,146.4 373.5,148 425.2,148" fill="none" stroke="#8c5292" stroke-width="1.5" stroke-linejoin="round" />
<path d="M425.2,148 C428.47,151.07 431.87,154 435,157.2 C439.04,161.33 442.6,165.92 446.7,170 C450.41,173.7 454.36,177.17 458.4,180.5 C462.13,183.57 465.95,186.57 470,189.2 C473.77,191.65 477.72,193.82 481.8,195.7 C485.54,197.43 489.43,198.87 493.4,200 C497.19,201.08 501.09,201.77 505,202.3 C508.91,202.83 512.86,203.03 516.8,203.2 C521.2,203.39 525.6,203.39 530,203.4 C581.67,203.46 633.33,203.4 685,203.4" fill="none" stroke="#8c5292" stroke-width="1.35" stroke-linejoin="round" stroke-linecap="round" />
<path d="M117,268.3 C171.33,268.27 225.67,268.32 280,268.2 C283.9,268.19 287.81,268.13 291.7,267.9 C295.04,267.7 298.46,267.75 301.7,266.9 C305.77,265.83 309.69,264.17 313.4,262.2 C316.33,260.64 318.97,258.55 321.5,256.4 C324.02,254.27 326.46,251.99 328.5,249.4 C330.79,246.49 332.38,243.1 334.4,240 C336.08,237.43 337.76,234.86 339.6,232.4 C341.26,230.18 343.04,228.05 344.9,226 C346.74,223.98 348.49,221.81 350.7,220.2 C352.81,218.67 355.33,217.78 357.7,216.7 C360,215.65 362.33,214.67 364.7,213.8 C366.43,213.17 368.22,212.7 370,212.2 C372.69,211.44 375.35,210.51 378.1,210 C381.97,209.28 385.89,208.9 389.8,208.5 C393.69,208.1 397.59,207.8 401.5,207.6 C406.93,207.33 412.37,207.22 417.8,207.1 C419.7,207.06 421.6,207.1 423.5,207.1" fill="none" stroke="#5058a8" stroke-width="1.35" stroke-linejoin="round" stroke-linecap="round" />
<path d="M423.8,207 C424.1,212.47 424.08,217.96 424.7,223.4 C425.15,227.32 425.34,231.42 427,235 C427.82,236.77 429.92,237.69 431.7,238.5 C435.45,240.21 439.48,241.24 443.4,242.5 C447.24,243.74 451.17,244.73 455,246 C458.93,247.3 462.79,248.83 466.7,250.2 C470.59,251.56 474.43,253.08 478.4,254.2 C482.21,255.28 486.1,256.1 490,256.8 C493.91,257.5 497.86,257.9 501.8,258.4 C505.66,258.9 509.52,259.42 513.4,259.8 C517.26,260.18 521.13,260.53 525,260.7 C530,260.93 535,260.99 540,261 C588.33,261.09 636.67,261 685,261" fill="none" stroke="#5058a8" stroke-width="1.35" stroke-linejoin="round" stroke-linecap="round" />
<path d="M117,332.6 C150.6,332.6 184.2,332.76 217.8,332.6 C219.38,332.59 220.97,332.48 222.5,332.1 C224.53,331.6 226.41,330.64 228.4,330 C230.32,329.38 232.3,328.96 234.2,328.3 C236.17,327.62 238.06,326.75 240,326 C241.96,325.25 243.91,324.48 245.9,323.8 C247.82,323.15 249.77,322.63 251.7,322 C253.68,321.36 255.65,320.7 257.6,320 C259.55,319.3 261.47,318.53 263.4,317.8 C265.33,317.07 267.25,316.28 269.2,315.6 C271.15,314.92 273.14,314.35 275.1,313.7 C276.74,313.15 278.35,312.53 280,312 C282.42,311.23 284.87,310.53 287.3,309.8 C289.73,309.07 292.18,308.38 294.6,307.6 C297.05,306.81 299.46,305.9 301.9,305.1 C304.32,304.3 306.75,303.52 309.2,302.8 C311.62,302.09 314.05,301.39 316.5,300.8 C318.92,300.22 321.36,299.75 323.8,299.3 C326.22,298.85 328.65,298.42 331.1,298.1 C333.52,297.78 335.97,297.63 338.4,297.4 C340.83,297.17 343.27,296.92 345.7,296.7 C348.13,296.48 350.57,296.28 353,296.1 C355.43,295.92 357.86,295.73 360.3,295.6 C362.73,295.47 365.17,295.35 367.6,295.3 C371.73,295.22 375.87,295.25 380,295.2 C387.3,295.11 394.6,295.05 401.9,294.9 C409.2,294.75 416.5,294.5 423.8,294.3 C431.1,294.1 438.4,293.81 445.7,293.7 C449.33,293.64 452.97,293.65 456.6,293.8 C460.27,293.95 463.94,294.28 467.6,294.6 C471.24,294.92 474.86,295.4 478.5,295.7 C482.16,296 485.83,296.22 489.5,296.4 C493.13,296.58 496.76,296.73 500.4,296.8 C504.07,296.87 507.73,296.88 511.4,296.8 C515.04,296.72 518.67,296.58 522.3,296.3 C525.54,296.05 528.78,295.7 532,295.2 C536.06,294.57 540.05,293.56 544.1,292.9 C552.12,291.59 560.14,290.3 568.2,289.3 C576.21,288.3 584.27,287.7 592.3,286.9 C600.3,286.1 608.29,285.23 616.3,284.5 C624.33,283.77 632.36,283.07 640.4,282.5 C648.43,281.93 656.46,281.51 664.5,281.1 C671.33,280.75 678.17,280.5 685,280.2" fill="none" stroke="#8c5292" stroke-width="1.35" stroke-linejoin="round" stroke-linecap="round" />
<line x1="212.4" y1="70.2" x2="216.8" y2="74.6" stroke="#484848" stroke-width="1.1" />
<line x1="212.4" y1="74.6" x2="216.8" y2="70.2" stroke="#484848" stroke-width="1.1" />
<polyline points="214.6,72.4 353.6,40.2 353.6,45.3" fill="none" stroke="#3c3c3c" stroke-width="0.8" stroke-linejoin="round" />
<rect x="353.6" y="45.3" width="91.6" height="9.1" fill="#634478" />
<rect x="354.4" y="46.1" width="7.5" height="7.5" fill="#3e3040" />
<path d="M355.4,50.15 q1.5,-2.2 3,0 t3,0" fill="none" stroke="#c8d060" stroke-width="1.1"/>
<text x="363.6" y="52.15" font-family="Liberation Mono" font-size="6.6" font-weight="normal" text-anchor="start" fill="#ddd2e4" textLength="37.96" lengthAdjust="spacingAndGlyphs" >X:2.3386u Y:0</text>
<line x1="422.6" y1="117" x2="427" y2="121.4" stroke="#484848" stroke-width="1.1" />
<line x1="422.6" y1="121.4" x2="427" y2="117" stroke="#484848" stroke-width="1.1" />
<polyline points="424.8,119.2 539,99.8 539,105.7" fill="none" stroke="#3c3c3c" stroke-width="0.8" stroke-linejoin="round" />
<rect x="539" y="105.7" width="91" height="7.9" fill="#634478" />
<rect x="539.8" y="106.5" width="7.5" height="6.3" fill="#3e3040" />
<path d="M540.8,109.95 q1.5,-2.2 3,0 t3,0" fill="none" stroke="#c8d060" stroke-width="1.1"/>
<text x="549" y="111.95" font-family="Liberation Mono" font-size="6.6" font-weight="normal" text-anchor="start" fill="#ddd2e4" textLength="35.04" lengthAdjust="spacingAndGlyphs" >X:2,342u Y:0</text>
<line x1="415.6" y1="204.8" x2="420" y2="209.2" stroke="#484848" stroke-width="1.1" />
<line x1="415.6" y1="209.2" x2="420" y2="204.8" stroke="#484848" stroke-width="1.1" />
<polyline points="417.8,207.2 433.6,208.2 469.3,209.8 469.3,215.2" fill="none" stroke="#3c3c3c" stroke-width="0.8" stroke-linejoin="round" />
<rect x="469.3" y="215.2" width="90.9" height="8.2" fill="#634478" />
<rect x="470.1" y="216" width="7.5" height="6.6" fill="#3e3040" />
<path d="M471.1,219.6 q1.5,-2.2 3,0 t3,0" fill="none" stroke="#c8d060" stroke-width="1.1"/>
<text x="479.3" y="221.6" font-family="Liberation Mono" font-size="6.6" font-weight="normal" text-anchor="start" fill="#ddd2e4" textLength="52.56" lengthAdjust="spacingAndGlyphs" >X:2,3419u Y:2,5306</text>
<line x1="564.2" y1="258.8" x2="568.6" y2="263.2" stroke="#484848" stroke-width="1.1" />
<line x1="564.2" y1="263.2" x2="568.6" y2="258.8" stroke="#484848" stroke-width="1.1" />
<polyline points="566.4,261 574.6,233.8 574.6,238.7" fill="none" stroke="#3c3c3c" stroke-width="0.8" stroke-linejoin="round" />
<rect x="574.6" y="238.7" width="90.7" height="8.5" fill="#634478" />
<rect x="575.4" y="239.5" width="7.5" height="6.9" fill="#3e3040" />
<path d="M576.4,243.25 q1.5,-2.2 3,0 t3,0" fill="none" stroke="#c8d060" stroke-width="1.1"/>
<text x="584.6" y="245.25" font-family="Liberation Mono" font-size="6.6" font-weight="normal" text-anchor="start" fill="#ddd2e4" textLength="55.48" lengthAdjust="spacingAndGlyphs" >X:2,3443u Y:323,17m</text>
<line x1="218.8" y1="84.8" x2="420.4" y2="84.8" stroke="#000" stroke-width="2.9" />
<path d="M213.1,84.8 L222.6,81.8 L220.22,84.8 L222.6,87.8Z" fill="#000"/>
<path d="M426.1,84.8 L416.6,81.8 L418.98,84.8 L416.6,87.8Z" fill="#000"/>
<path d="M264.9,91.9 L274,111.5 L255.9,111.5Z M264.14,96.67 L258.2,109.6 L270.14,109.6Z" fill="#000" fill-rule="evenodd"/>
<text x="275" y="111.5" font-family="Liberation Serif" font-size="31" font-weight="bold" text-anchor="start" fill="#000" textLength="96.6" lengthAdjust="spacingAndGlyphs"  stroke="#000" stroke-width="0.35">t=3.4ns</text>
<text x="211.6" y="230.6" font-family="Liberation Serif" font-size="31" font-weight="bold" text-anchor="start" fill="#000" textLength="127" lengthAdjust="spacingAndGlyphs"  stroke="#000" stroke-width="0.35">Ipk=2.5A</text>
<line x1="218.8" y1="271.6" x2="559.8" y2="271.6" stroke="#000" stroke-width="2.4" />
<path d="M212.8,271.6 L222.8,268.3 L220.3,271.6 L222.8,274.9Z" fill="#000"/>
<path d="M565.8,271.6 L555.8,268.3 L558.3,271.6 L555.8,274.9Z" fill="#000"/>
<text x="222" y="291.4" font-family="Liberation Serif" font-size="23" font-weight="bold" text-anchor="start" fill="#000" textLength="246.7" lengthAdjust="spacingAndGlyphs"  stroke="#000" stroke-width="0.35">Switching interval=5.7ns</text>
<line x1="0" y1="404.3" x2="683.3" y2="404.3" stroke="#e4e4e4" stroke-width="1" />
<line x1="683.3" y1="404.3" x2="683.3" y2="762" stroke="#e8e8e8" stroke-width="1" />
<line x1="107.6" y1="423.6" x2="683" y2="423.6" stroke="#bcbcbc" stroke-width="0.9" stroke-dasharray="1.7,2.3" />
<line x1="107.6" y1="437.5" x2="683" y2="437.5" stroke="#bcbcbc" stroke-width="0.9" stroke-dasharray="1.7,2.3" />
<line x1="107.6" y1="451.6" x2="683" y2="451.6" stroke="#bcbcbc" stroke-width="0.9" stroke-dasharray="1.7,2.3" />
<line x1="107.6" y1="465.5" x2="683" y2="465.5" stroke="#bcbcbc" stroke-width="0.9" stroke-dasharray="1.7,2.3" />
<line x1="107.6" y1="478.9" x2="683" y2="478.9" stroke="#bcbcbc" stroke-width="0.9" stroke-dasharray="1.7,2.3" />
<line x1="107.6" y1="486.3" x2="683" y2="486.3" stroke="#bcbcbc" stroke-width="0.9" stroke-dasharray="1.7,2.3" />
<line x1="107.6" y1="494.1" x2="683" y2="494.1" stroke="#bcbcbc" stroke-width="0.9" stroke-dasharray="1.7,2.3" />
<line x1="107.6" y1="502" x2="683" y2="502" stroke="#bcbcbc" stroke-width="0.9" stroke-dasharray="1.7,2.3" />
<line x1="107.6" y1="509.8" x2="683" y2="509.8" stroke="#bcbcbc" stroke-width="0.9" stroke-dasharray="1.7,2.3" />
<line x1="107.6" y1="517.6" x2="683" y2="517.6" stroke="#bcbcbc" stroke-width="0.9" stroke-dasharray="1.7,2.3" />
<line x1="107.6" y1="525.3" x2="683" y2="525.3" stroke="#bcbcbc" stroke-width="0.9" stroke-dasharray="1.7,2.3" />
<line x1="107.6" y1="533" x2="683" y2="533" stroke="#bcbcbc" stroke-width="0.9" stroke-dasharray="1.7,2.3" />
<line x1="107.6" y1="540.6" x2="683" y2="540.6" stroke="#bcbcbc" stroke-width="0.9" stroke-dasharray="1.7,2.3" />
<line x1="107.6" y1="556.5" x2="683" y2="556.5" stroke="#bcbcbc" stroke-width="0.9" stroke-dasharray="1.7,2.3" />
<line x1="107.6" y1="568.1" x2="683" y2="568.1" stroke="#bcbcbc" stroke-width="0.9" stroke-dasharray="1.7,2.3" />
<line x1="107.6" y1="579.7" x2="683" y2="579.7" stroke="#bcbcbc" stroke-width="0.9" stroke-dasharray="1.7,2.3" />
<line x1="107.6" y1="591.1" x2="683" y2="591.1" stroke="#bcbcbc" stroke-width="0.9" stroke-dasharray="1.7,2.3" />
<line x1="107.6" y1="602.5" x2="683" y2="602.5" stroke="#bcbcbc" stroke-width="0.9" stroke-dasharray="1.7,2.3" />
<line x1="107.6" y1="614" x2="683" y2="614" stroke="#bcbcbc" stroke-width="0.9" stroke-dasharray="1.7,2.3" />
<line x1="107.6" y1="624.3" x2="683" y2="624.3" stroke="#bcbcbc" stroke-width="0.9" stroke-dasharray="1.7,2.3" />
<line x1="107.6" y1="631.4" x2="683" y2="631.4" stroke="#bcbcbc" stroke-width="0.9" stroke-dasharray="1.7,2.3" />
<line x1="107.6" y1="638.5" x2="683" y2="638.5" stroke="#bcbcbc" stroke-width="0.9" stroke-dasharray="1.7,2.3" />
<line x1="107.6" y1="645.5" x2="683" y2="645.5" stroke="#bcbcbc" stroke-width="0.9" stroke-dasharray="1.7,2.3" />
<line x1="107.6" y1="652.6" x2="683" y2="652.6" stroke="#bcbcbc" stroke-width="0.9" stroke-dasharray="1.7,2.3" />
<line x1="107.6" y1="659.7" x2="683" y2="659.7" stroke="#bcbcbc" stroke-width="0.9" stroke-dasharray="1.7,2.3" />
<line x1="107.6" y1="666.8" x2="683" y2="666.8" stroke="#bcbcbc" stroke-width="0.9" stroke-dasharray="1.7,2.3" />
<line x1="107.6" y1="673.9" x2="683" y2="673.9" stroke="#bcbcbc" stroke-width="0.9" stroke-dasharray="1.7,2.3" />
<line x1="107.6" y1="680.9" x2="683" y2="680.9" stroke="#bcbcbc" stroke-width="0.9" stroke-dasharray="1.7,2.3" />
<line x1="107.6" y1="692.7" x2="683" y2="692.7" stroke="#bcbcbc" stroke-width="0.9" stroke-dasharray="1.7,2.3" />
<line x1="107.6" y1="706.7" x2="683" y2="706.7" stroke="#bcbcbc" stroke-width="0.9" stroke-dasharray="1.7,2.3" />
<line x1="107.6" y1="720.5" x2="683" y2="720.5" stroke="#bcbcbc" stroke-width="0.9" stroke-dasharray="1.7,2.3" />
<line x1="107.6" y1="734.3" x2="683" y2="734.3" stroke="#bcbcbc" stroke-width="0.9" stroke-dasharray="1.7,2.3" />
<line x1="107.6" y1="747.4" x2="683" y2="747.4" stroke="#bcbcbc" stroke-width="0.9" stroke-dasharray="1.7,2.3" />
<line x1="121.2" y1="414.3" x2="121.2" y2="749.4" stroke="#acacac" stroke-width="0.9" stroke-dasharray="1.7,2.5" />
<line x1="225.5" y1="414.3" x2="225.5" y2="749.4" stroke="#acacac" stroke-width="0.9" stroke-dasharray="1.7,2.5" />
<line x1="329.8" y1="414.3" x2="329.8" y2="749.4" stroke="#acacac" stroke-width="0.9" stroke-dasharray="1.7,2.5" />
<line x1="434.1" y1="414.3" x2="434.1" y2="749.4" stroke="#acacac" stroke-width="0.9" stroke-dasharray="1.7,2.5" />
<line x1="538.4" y1="414.3" x2="538.4" y2="749.4" stroke="#acacac" stroke-width="0.9" stroke-dasharray="1.7,2.5" />
<line x1="642.7" y1="414.3" x2="642.7" y2="749.4" stroke="#acacac" stroke-width="0.9" stroke-dasharray="1.7,2.5" />
<line x1="105" y1="415.31" x2="106.6" y2="415.31" stroke="#707070" stroke-width="0.8" />
<line x1="107.6" y1="415.31" x2="108.8" y2="415.31" stroke="#b0b0b0" stroke-width="0.7" />
<line x1="105" y1="418.07" x2="106.6" y2="418.07" stroke="#707070" stroke-width="0.8" />
<line x1="107.6" y1="418.07" x2="108.8" y2="418.07" stroke="#b0b0b0" stroke-width="0.7" />
<line x1="105" y1="420.83" x2="106.6" y2="420.83" stroke="#707070" stroke-width="0.8" />
<line x1="107.6" y1="420.83" x2="108.8" y2="420.83" stroke="#b0b0b0" stroke-width="0.7" />
<line x1="104" y1="423.6" x2="106.6" y2="423.6" stroke="#707070" stroke-width="0.8" />
<line x1="107.6" y1="423.6" x2="108.8" y2="423.6" stroke="#b0b0b0" stroke-width="0.7" />
<line x1="105" y1="426.36" x2="106.6" y2="426.36" stroke="#707070" stroke-width="0.8" />
<line x1="107.6" y1="426.36" x2="108.8" y2="426.36" stroke="#b0b0b0" stroke-width="0.7" />
<line x1="105" y1="429.13" x2="106.6" y2="429.13" stroke="#707070" stroke-width="0.8" />
<line x1="107.6" y1="429.13" x2="108.8" y2="429.13" stroke="#b0b0b0" stroke-width="0.7" />
<line x1="105" y1="431.89" x2="106.6" y2="431.89" stroke="#707070" stroke-width="0.8" />
<line x1="107.6" y1="431.89" x2="108.8" y2="431.89" stroke="#b0b0b0" stroke-width="0.7" />
<line x1="105" y1="434.66" x2="106.6" y2="434.66" stroke="#707070" stroke-width="0.8" />
<line x1="107.6" y1="434.66" x2="108.8" y2="434.66" stroke="#b0b0b0" stroke-width="0.7" />
<line x1="104" y1="437.42" x2="106.6" y2="437.42" stroke="#707070" stroke-width="0.8" />
<line x1="107.6" y1="437.42" x2="108.8" y2="437.42" stroke="#b0b0b0" stroke-width="0.7" />
<line x1="105" y1="440.19" x2="106.6" y2="440.19" stroke="#707070" stroke-width="0.8" />
<line x1="107.6" y1="440.19" x2="108.8" y2="440.19" stroke="#b0b0b0" stroke-width="0.7" />
<line x1="105" y1="442.95" x2="106.6" y2="442.95" stroke="#707070" stroke-width="0.8" />
<line x1="107.6" y1="442.95" x2="108.8" y2="442.95" stroke="#b0b0b0" stroke-width="0.7" />
<line x1="105" y1="445.72" x2="106.6" y2="445.72" stroke="#707070" stroke-width="0.8" />
<line x1="107.6" y1="445.72" x2="108.8" y2="445.72" stroke="#b0b0b0" stroke-width="0.7" />
<line x1="105" y1="448.48" x2="106.6" y2="448.48" stroke="#707070" stroke-width="0.8" />
<line x1="107.6" y1="448.48" x2="108.8" y2="448.48" stroke="#b0b0b0" stroke-width="0.7" />
<line x1="105" y1="451.25" x2="106.6" y2="451.25" stroke="#707070" stroke-width="0.8" />
<line x1="107.6" y1="451.25" x2="108.8" y2="451.25" stroke="#b0b0b0" stroke-width="0.7" />
<line x1="105" y1="454.01" x2="106.6" y2="454.01" stroke="#707070" stroke-width="0.8" />
<line x1="107.6" y1="454.01" x2="108.8" y2="454.01" stroke="#b0b0b0" stroke-width="0.7" />
<line x1="105" y1="456.78" x2="106.6" y2="456.78" stroke="#707070" stroke-width="0.8" />
<line x1="107.6" y1="456.78" x2="108.8" y2="456.78" stroke="#b0b0b0" stroke-width="0.7" />
<line x1="105" y1="459.54" x2="106.6" y2="459.54" stroke="#707070" stroke-width="0.8" />
<line x1="107.6" y1="459.54" x2="108.8" y2="459.54" stroke="#b0b0b0" stroke-width="0.7" />
<line x1="105" y1="462.31" x2="106.6" y2="462.31" stroke="#707070" stroke-width="0.8" />
<line x1="107.6" y1="462.31" x2="108.8" y2="462.31" stroke="#b0b0b0" stroke-width="0.7" />
<line x1="105" y1="465.07" x2="106.6" y2="465.07" stroke="#707070" stroke-width="0.8" />
<line x1="107.6" y1="465.07" x2="108.8" y2="465.07" stroke="#b0b0b0" stroke-width="0.7" />
<line x1="105" y1="467.84" x2="106.6" y2="467.84" stroke="#707070" stroke-width="0.8" />
<line x1="107.6" y1="467.84" x2="108.8" y2="467.84" stroke="#b0b0b0" stroke-width="0.7" />
<line x1="105" y1="470.6" x2="106.6" y2="470.6" stroke="#707070" stroke-width="0.8" />
<line x1="107.6" y1="470.6" x2="108.8" y2="470.6" stroke="#b0b0b0" stroke-width="0.7" />
<line x1="105" y1="473.37" x2="106.6" y2="473.37" stroke="#707070" stroke-width="0.8" />
<line x1="107.6" y1="473.37" x2="108.8" y2="473.37" stroke="#b0b0b0" stroke-width="0.7" />
<line x1="105" y1="476.13" x2="106.6" y2="476.13" stroke="#707070" stroke-width="0.8" />
<line x1="107.6" y1="476.13" x2="108.8" y2="476.13" stroke="#b0b0b0" stroke-width="0.7" />
<line x1="104" y1="478.9" x2="106.6" y2="478.9" stroke="#707070" stroke-width="0.8" />
<line x1="107.6" y1="478.9" x2="108.8" y2="478.9" stroke="#b0b0b0" stroke-width="0.7" />
<text x="103.6" y="425.8" font-family="Liberation Mono" font-size="6.4" font-weight="normal" text-anchor="end" fill="#262626" textLength="2.7" lengthAdjust="spacingAndGlyphs" >4</text>
<text x="103.6" y="439.7" font-family="Liberation Mono" font-size="6.4" font-weight="normal" text-anchor="end" fill="#262626" textLength="2.7" lengthAdjust="spacingAndGlyphs" >3</text>
<text x="103.6" y="453.8" font-family="Liberation Mono" font-size="6.4" font-weight="normal" text-anchor="end" fill="#262626" textLength="2.7" lengthAdjust="spacingAndGlyphs" >2</text>
<text x="103.6" y="467.7" font-family="Liberation Mono" font-size="6.4" font-weight="normal" text-anchor="end" fill="#262626" textLength="2.7" lengthAdjust="spacingAndGlyphs" >1</text>
<text x="103.6" y="481.1" font-family="Liberation Mono" font-size="6.4" font-weight="normal" text-anchor="end" fill="#262626" textLength="2.7" lengthAdjust="spacingAndGlyphs" >0</text>
<line x1="105" y1="482.42" x2="106.6" y2="482.42" stroke="#707070" stroke-width="0.8" />
<line x1="107.6" y1="482.42" x2="108.8" y2="482.42" stroke="#b0b0b0" stroke-width="0.7" />
<line x1="104" y1="486.3" x2="106.6" y2="486.3" stroke="#707070" stroke-width="0.8" />
<line x1="107.6" y1="486.3" x2="108.8" y2="486.3" stroke="#b0b0b0" stroke-width="0.7" />
<line x1="105" y1="490.18" x2="106.6" y2="490.18" stroke="#707070" stroke-width="0.8" />
<line x1="107.6" y1="490.18" x2="108.8" y2="490.18" stroke="#b0b0b0" stroke-width="0.7" />
<line x1="104" y1="494.06" x2="106.6" y2="494.06" stroke="#707070" stroke-width="0.8" />
<line x1="107.6" y1="494.06" x2="108.8" y2="494.06" stroke="#b0b0b0" stroke-width="0.7" />
<line x1="105" y1="497.94" x2="106.6" y2="497.94" stroke="#707070" stroke-width="0.8" />
<line x1="107.6" y1="497.94" x2="108.8" y2="497.94" stroke="#b0b0b0" stroke-width="0.7" />
<line x1="104" y1="501.81" x2="106.6" y2="501.81" stroke="#707070" stroke-width="0.8" />
<line x1="107.6" y1="501.81" x2="108.8" y2="501.81" stroke="#b0b0b0" stroke-width="0.7" />
<line x1="105" y1="505.69" x2="106.6" y2="505.69" stroke="#707070" stroke-width="0.8" />
<line x1="107.6" y1="505.69" x2="108.8" y2="505.69" stroke="#b0b0b0" stroke-width="0.7" />
<line x1="104" y1="509.57" x2="106.6" y2="509.57" stroke="#707070" stroke-width="0.8" />
<line x1="107.6" y1="509.57" x2="108.8" y2="509.57" stroke="#b0b0b0" stroke-width="0.7" />
<line x1="105" y1="513.45" x2="106.6" y2="513.45" stroke="#707070" stroke-width="0.8" />
<line x1="107.6" y1="513.45" x2="108.8" y2="513.45" stroke="#b0b0b0" stroke-width="0.7" />
<line x1="104" y1="517.33" x2="106.6" y2="517.33" stroke="#707070" stroke-width="0.8" />
<line x1="107.6" y1="517.33" x2="108.8" y2="517.33" stroke="#b0b0b0" stroke-width="0.7" />
<line x1="105" y1="521.21" x2="106.6" y2="521.21" stroke="#707070" stroke-width="0.8" />
<line x1="107.6" y1="521.21" x2="108.8" y2="521.21" stroke="#b0b0b0" stroke-width="0.7" />
<line x1="104" y1="525.09" x2="106.6" y2="525.09" stroke="#707070" stroke-width="0.8" />
<line x1="107.6" y1="525.09" x2="108.8" y2="525.09" stroke="#b0b0b0" stroke-width="0.7" />
<line x1="105" y1="528.96" x2="106.6" y2="528.96" stroke="#707070" stroke-width="0.8" />
<line x1="107.6" y1="528.96" x2="108.8" y2="528.96" stroke="#b0b0b0" stroke-width="0.7" />
<line x1="104" y1="532.84" x2="106.6" y2="532.84" stroke="#707070" stroke-width="0.8" />
<line x1="107.6" y1="532.84" x2="108.8" y2="532.84" stroke="#b0b0b0" stroke-width="0.7" />
<line x1="105" y1="536.72" x2="106.6" y2="536.72" stroke="#707070" stroke-width="0.8" />
<line x1="107.6" y1="536.72" x2="108.8" y2="536.72" stroke="#b0b0b0" stroke-width="0.7" />
<line x1="104" y1="540.6" x2="106.6" y2="540.6" stroke="#707070" stroke-width="0.8" />
<line x1="107.6" y1="540.6" x2="108.8" y2="540.6" stroke="#b0b0b0" stroke-width="0.7" />
<line x1="105" y1="544.48" x2="106.6" y2="544.48" stroke="#707070" stroke-width="0.8" />
<line x1="107.6" y1="544.48" x2="108.8" y2="544.48" stroke="#b0b0b0" stroke-width="0.7" />
<text x="103.6" y="488.5" font-family="Liberation Mono" font-size="6.4" font-weight="normal" text-anchor="end" fill="#262626" textLength="2.7" lengthAdjust="spacingAndGlyphs" >2</text>
<text x="103.6" y="496.3" font-family="Liberation Mono" font-size="6.4" font-weight="normal" text-anchor="end" fill="#262626" textLength="2.7" lengthAdjust="spacingAndGlyphs" >1</text>
<text x="103.6" y="504.2" font-family="Liberation Mono" font-size="6.4" font-weight="normal" text-anchor="end" fill="#262626" textLength="2.7" lengthAdjust="spacingAndGlyphs" >0</text>
<text x="103.6" y="512" font-family="Liberation Mono" font-size="6.4" font-weight="normal" text-anchor="end" fill="#262626" textLength="5.4" lengthAdjust="spacingAndGlyphs" >-1</text>
<text x="103.6" y="519.8" font-family="Liberation Mono" font-size="6.4" font-weight="normal" text-anchor="end" fill="#262626" textLength="5.4" lengthAdjust="spacingAndGlyphs" >-2</text>
<text x="103.6" y="527.5" font-family="Liberation Mono" font-size="6.4" font-weight="normal" text-anchor="end" fill="#262626" textLength="5.4" lengthAdjust="spacingAndGlyphs" >-3</text>
<text x="103.6" y="535.2" font-family="Liberation Mono" font-size="6.4" font-weight="normal" text-anchor="end" fill="#262626" textLength="5.4" lengthAdjust="spacingAndGlyphs" >-4</text>
<text x="103.6" y="542.8" font-family="Liberation Mono" font-size="6.4" font-weight="normal" text-anchor="end" fill="#262626" textLength="5.4" lengthAdjust="spacingAndGlyphs" >-5</text>
<line x1="105" y1="549.6" x2="106.6" y2="549.6" stroke="#707070" stroke-width="0.8" />
<line x1="107.6" y1="549.6" x2="108.8" y2="549.6" stroke="#b0b0b0" stroke-width="0.7" />
<line x1="105" y1="551.9" x2="106.6" y2="551.9" stroke="#707070" stroke-width="0.8" />
<line x1="107.6" y1="551.9" x2="108.8" y2="551.9" stroke="#b0b0b0" stroke-width="0.7" />
<line x1="105" y1="554.2" x2="106.6" y2="554.2" stroke="#707070" stroke-width="0.8" />
<line x1="107.6" y1="554.2" x2="108.8" y2="554.2" stroke="#b0b0b0" stroke-width="0.7" />
<line x1="104" y1="556.5" x2="106.6" y2="556.5" stroke="#707070" stroke-width="0.8" />
<line x1="107.6" y1="556.5" x2="108.8" y2="556.5" stroke="#b0b0b0" stroke-width="0.7" />
<line x1="105" y1="558.8" x2="106.6" y2="558.8" stroke="#707070" stroke-width="0.8" />
<line x1="107.6" y1="558.8" x2="108.8" y2="558.8" stroke="#b0b0b0" stroke-width="0.7" />
<line x1="105" y1="561.1" x2="106.6" y2="561.1" stroke="#707070" stroke-width="0.8" />
<line x1="107.6" y1="561.1" x2="108.8" y2="561.1" stroke="#b0b0b0" stroke-width="0.7" />
<line x1="105" y1="563.4" x2="106.6" y2="563.4" stroke="#707070" stroke-width="0.8" />
<line x1="107.6" y1="563.4" x2="108.8" y2="563.4" stroke="#b0b0b0" stroke-width="0.7" />
<line x1="105" y1="565.7" x2="106.6" y2="565.7" stroke="#707070" stroke-width="0.8" />
<line x1="107.6" y1="565.7" x2="108.8" y2="565.7" stroke="#b0b0b0" stroke-width="0.7" />
<line x1="104" y1="568" x2="106.6" y2="568" stroke="#707070" stroke-width="0.8" />
<line x1="107.6" y1="568" x2="108.8" y2="568" stroke="#b0b0b0" stroke-width="0.7" />
<line x1="105" y1="570.3" x2="106.6" y2="570.3" stroke="#707070" stroke-width="0.8" />
<line x1="107.6" y1="570.3" x2="108.8" y2="570.3" stroke="#b0b0b0" stroke-width="0.7" />
<line x1="105" y1="572.6" x2="106.6" y2="572.6" stroke="#707070" stroke-width="0.8" />
<line x1="107.6" y1="572.6" x2="108.8" y2="572.6" stroke="#b0b0b0" stroke-width="0.7" />
<line x1="105" y1="574.9" x2="106.6" y2="574.9" stroke="#707070" stroke-width="0.8" />
<line x1="107.6" y1="574.9" x2="108.8" y2="574.9" stroke="#b0b0b0" stroke-width="0.7" />
<line x1="105" y1="577.2" x2="106.6" y2="577.2" stroke="#707070" stroke-width="0.8" />
<line x1="107.6" y1="577.2" x2="108.8" y2="577.2" stroke="#b0b0b0" stroke-width="0.7" />
<line x1="104" y1="579.5" x2="106.6" y2="579.5" stroke="#707070" stroke-width="0.8" />
<line x1="107.6" y1="579.5" x2="108.8" y2="579.5" stroke="#b0b0b0" stroke-width="0.7" />
<line x1="105" y1="581.8" x2="106.6" y2="581.8" stroke="#707070" stroke-width="0.8" />
<line x1="107.6" y1="581.8" x2="108.8" y2="581.8" stroke="#b0b0b0" stroke-width="0.7" />
<line x1="105" y1="584.1" x2="106.6" y2="584.1" stroke="#707070" stroke-width="0.8" />
<line x1="107.6" y1="584.1" x2="108.8" y2="584.1" stroke="#b0b0b0" stroke-width="0.7" />
<line x1="105" y1="586.4" x2="106.6" y2="586.4" stroke="#707070" stroke-width="0.8" />
<line x1="107.6" y1="586.4" x2="108.8" y2="586.4" stroke="#b0b0b0" stroke-width="0.7" />
<line x1="105" y1="588.7" x2="106.6" y2="588.7" stroke="#707070" stroke-width="0.8" />
<line x1="107.6" y1="588.7" x2="108.8" y2="588.7" stroke="#b0b0b0" stroke-width="0.7" />
<line x1="104" y1="591" x2="106.6" y2="591" stroke="#707070" stroke-width="0.8" />
<line x1="107.6" y1="591" x2="108.8" y2="591" stroke="#b0b0b0" stroke-width="0.7" />
<line x1="105" y1="593.3" x2="106.6" y2="593.3" stroke="#707070" stroke-width="0.8" />
<line x1="107.6" y1="593.3" x2="108.8" y2="593.3" stroke="#b0b0b0" stroke-width="0.7" />
<line x1="105" y1="595.6" x2="106.6" y2="595.6" stroke="#707070" stroke-width="0.8" />
<line x1="107.6" y1="595.6" x2="108.8" y2="595.6" stroke="#b0b0b0" stroke-width="0.7" />
<line x1="105" y1="597.9" x2="106.6" y2="597.9" stroke="#707070" stroke-width="0.8" />
<line x1="107.6" y1="597.9" x2="108.8" y2="597.9" stroke="#b0b0b0" stroke-width="0.7" />
<line x1="105" y1="600.2" x2="106.6" y2="600.2" stroke="#707070" stroke-width="0.8" />
<line x1="107.6" y1="600.2" x2="108.8" y2="600.2" stroke="#b0b0b0" stroke-width="0.7" />
<line x1="104" y1="602.5" x2="106.6" y2="602.5" stroke="#707070" stroke-width="0.8" />
<line x1="107.6" y1="602.5" x2="108.8" y2="602.5" stroke="#b0b0b0" stroke-width="0.7" />
<line x1="105" y1="604.8" x2="106.6" y2="604.8" stroke="#707070" stroke-width="0.8" />
<line x1="107.6" y1="604.8" x2="108.8" y2="604.8" stroke="#b0b0b0" stroke-width="0.7" />
<line x1="105" y1="607.1" x2="106.6" y2="607.1" stroke="#707070" stroke-width="0.8" />
<line x1="107.6" y1="607.1" x2="108.8" y2="607.1" stroke="#b0b0b0" stroke-width="0.7" />
<line x1="105" y1="609.4" x2="106.6" y2="609.4" stroke="#707070" stroke-width="0.8" />
<line x1="107.6" y1="609.4" x2="108.8" y2="609.4" stroke="#b0b0b0" stroke-width="0.7" />
<line x1="105" y1="611.7" x2="106.6" y2="611.7" stroke="#707070" stroke-width="0.8" />
<line x1="107.6" y1="611.7" x2="108.8" y2="611.7" stroke="#b0b0b0" stroke-width="0.7" />
<line x1="104" y1="614" x2="106.6" y2="614" stroke="#707070" stroke-width="0.8" />
<line x1="107.6" y1="614" x2="108.8" y2="614" stroke="#b0b0b0" stroke-width="0.7" />
<text x="103.6" y="558.7" font-family="Liberation Mono" font-size="6.4" font-weight="normal" text-anchor="end" fill="#262626" textLength="5.4" lengthAdjust="spacingAndGlyphs" >50</text>
<text x="103.6" y="570.3" font-family="Liberation Mono" font-size="6.4" font-weight="normal" text-anchor="end" fill="#262626" textLength="5.4" lengthAdjust="spacingAndGlyphs" >40</text>
<text x="103.6" y="581.9" font-family="Liberation Mono" font-size="6.4" font-weight="normal" text-anchor="end" fill="#262626" textLength="5.4" lengthAdjust="spacingAndGlyphs" >30</text>
<text x="103.6" y="593.3" font-family="Liberation Mono" font-size="6.4" font-weight="normal" text-anchor="end" fill="#262626" textLength="5.4" lengthAdjust="spacingAndGlyphs" >20</text>
<text x="103.6" y="604.7" font-family="Liberation Mono" font-size="6.4" font-weight="normal" text-anchor="end" fill="#262626" textLength="5.4" lengthAdjust="spacingAndGlyphs" >10</text>
<line x1="105" y1="617.22" x2="106.6" y2="617.22" stroke="#707070" stroke-width="0.8" />
<line x1="107.6" y1="617.22" x2="108.8" y2="617.22" stroke="#b0b0b0" stroke-width="0.7" />
<line x1="105" y1="620.76" x2="106.6" y2="620.76" stroke="#707070" stroke-width="0.8" />
<line x1="107.6" y1="620.76" x2="108.8" y2="620.76" stroke="#b0b0b0" stroke-width="0.7" />
<line x1="104" y1="624.3" x2="106.6" y2="624.3" stroke="#707070" stroke-width="0.8" />
<line x1="107.6" y1="624.3" x2="108.8" y2="624.3" stroke="#b0b0b0" stroke-width="0.7" />
<line x1="105" y1="627.84" x2="106.6" y2="627.84" stroke="#707070" stroke-width="0.8" />
<line x1="107.6" y1="627.84" x2="108.8" y2="627.84" stroke="#b0b0b0" stroke-width="0.7" />
<line x1="104" y1="631.38" x2="106.6" y2="631.38" stroke="#707070" stroke-width="0.8" />
<line x1="107.6" y1="631.38" x2="108.8" y2="631.38" stroke="#b0b0b0" stroke-width="0.7" />
<line x1="105" y1="634.91" x2="106.6" y2="634.91" stroke="#707070" stroke-width="0.8" />
<line x1="107.6" y1="634.91" x2="108.8" y2="634.91" stroke="#b0b0b0" stroke-width="0.7" />
<line x1="104" y1="638.45" x2="106.6" y2="638.45" stroke="#707070" stroke-width="0.8" />
<line x1="107.6" y1="638.45" x2="108.8" y2="638.45" stroke="#b0b0b0" stroke-width="0.7" />
<line x1="105" y1="641.99" x2="106.6" y2="641.99" stroke="#707070" stroke-width="0.8" />
<line x1="107.6" y1="641.99" x2="108.8" y2="641.99" stroke="#b0b0b0" stroke-width="0.7" />
<line x1="104" y1="645.53" x2="106.6" y2="645.53" stroke="#707070" stroke-width="0.8" />
<line x1="107.6" y1="645.53" x2="108.8" y2="645.53" stroke="#b0b0b0" stroke-width="0.7" />
<line x1="105" y1="649.06" x2="106.6" y2="649.06" stroke="#707070" stroke-width="0.8" />
<line x1="107.6" y1="649.06" x2="108.8" y2="649.06" stroke="#b0b0b0" stroke-width="0.7" />
<line x1="104" y1="652.6" x2="106.6" y2="652.6" stroke="#707070" stroke-width="0.8" />
<line x1="107.6" y1="652.6" x2="108.8" y2="652.6" stroke="#b0b0b0" stroke-width="0.7" />
<line x1="105" y1="656.14" x2="106.6" y2="656.14" stroke="#707070" stroke-width="0.8" />
<line x1="107.6" y1="656.14" x2="108.8" y2="656.14" stroke="#b0b0b0" stroke-width="0.7" />
<line x1="104" y1="659.68" x2="106.6" y2="659.68" stroke="#707070" stroke-width="0.8" />
<line x1="107.6" y1="659.68" x2="108.8" y2="659.68" stroke="#b0b0b0" stroke-width="0.7" />
<line x1="105" y1="663.21" x2="106.6" y2="663.21" stroke="#707070" stroke-width="0.8" />
<line x1="107.6" y1="663.21" x2="108.8" y2="663.21" stroke="#b0b0b0" stroke-width="0.7" />
<line x1="104" y1="666.75" x2="106.6" y2="666.75" stroke="#707070" stroke-width="0.8" />
<line x1="107.6" y1="666.75" x2="108.8" y2="666.75" stroke="#b0b0b0" stroke-width="0.7" />
<line x1="105" y1="670.29" x2="106.6" y2="670.29" stroke="#707070" stroke-width="0.8" />
<line x1="107.6" y1="670.29" x2="108.8" y2="670.29" stroke="#b0b0b0" stroke-width="0.7" />
<line x1="104" y1="673.83" x2="106.6" y2="673.83" stroke="#707070" stroke-width="0.8" />
<line x1="107.6" y1="673.83" x2="108.8" y2="673.83" stroke="#b0b0b0" stroke-width="0.7" />
<line x1="105" y1="677.36" x2="106.6" y2="677.36" stroke="#707070" stroke-width="0.8" />
<line x1="107.6" y1="677.36" x2="108.8" y2="677.36" stroke="#b0b0b0" stroke-width="0.7" />
<line x1="104" y1="680.9" x2="106.6" y2="680.9" stroke="#707070" stroke-width="0.8" />
<line x1="107.6" y1="680.9" x2="108.8" y2="680.9" stroke="#b0b0b0" stroke-width="0.7" />
<text x="103.6" y="626.5" font-family="Liberation Mono" font-size="6.4" font-weight="normal" text-anchor="end" fill="#262626" textLength="8.1" lengthAdjust="spacingAndGlyphs" >1.6</text>
<text x="103.6" y="633.6" font-family="Liberation Mono" font-size="6.4" font-weight="normal" text-anchor="end" fill="#262626" textLength="8.1" lengthAdjust="spacingAndGlyphs" >1.4</text>
<text x="103.6" y="640.7" font-family="Liberation Mono" font-size="6.4" font-weight="normal" text-anchor="end" fill="#262626" textLength="8.1" lengthAdjust="spacingAndGlyphs" >1.2</text>
<text x="103.6" y="647.7" font-family="Liberation Mono" font-size="6.4" font-weight="normal" text-anchor="end" fill="#262626" textLength="2.7" lengthAdjust="spacingAndGlyphs" >1</text>
<text x="103.6" y="654.8" font-family="Liberation Mono" font-size="6.4" font-weight="normal" text-anchor="end" fill="#262626" textLength="10.8" lengthAdjust="spacingAndGlyphs" >800m</text>
<text x="103.6" y="661.9" font-family="Liberation Mono" font-size="6.4" font-weight="normal" text-anchor="end" fill="#262626" textLength="10.8" lengthAdjust="spacingAndGlyphs" >600m</text>
<text x="103.6" y="669" font-family="Liberation Mono" font-size="6.4" font-weight="normal" text-anchor="end" fill="#262626" textLength="10.8" lengthAdjust="spacingAndGlyphs" >400m</text>
<text x="103.6" y="676.1" font-family="Liberation Mono" font-size="6.4" font-weight="normal" text-anchor="end" fill="#262626" textLength="10.8" lengthAdjust="spacingAndGlyphs" >200m</text>
<text x="103.6" y="683.1" font-family="Liberation Mono" font-size="6.4" font-weight="normal" text-anchor="end" fill="#262626" textLength="2.7" lengthAdjust="spacingAndGlyphs" >0</text>
<line x1="105" y1="684.5" x2="106.6" y2="684.5" stroke="#707070" stroke-width="0.8" />
<line x1="107.6" y1="684.5" x2="108.8" y2="684.5" stroke="#b0b0b0" stroke-width="0.7" />
<line x1="105" y1="687.23" x2="106.6" y2="687.23" stroke="#707070" stroke-width="0.8" />
<line x1="107.6" y1="687.23" x2="108.8" y2="687.23" stroke="#b0b0b0" stroke-width="0.7" />
<line x1="105" y1="689.97" x2="106.6" y2="689.97" stroke="#707070" stroke-width="0.8" />
<line x1="107.6" y1="689.97" x2="108.8" y2="689.97" stroke="#b0b0b0" stroke-width="0.7" />
<line x1="104" y1="692.7" x2="106.6" y2="692.7" stroke="#707070" stroke-width="0.8" />
<line x1="107.6" y1="692.7" x2="108.8" y2="692.7" stroke="#b0b0b0" stroke-width="0.7" />
<line x1="105" y1="695.44" x2="106.6" y2="695.44" stroke="#707070" stroke-width="0.8" />
<line x1="107.6" y1="695.44" x2="108.8" y2="695.44" stroke="#b0b0b0" stroke-width="0.7" />
<line x1="105" y1="698.17" x2="106.6" y2="698.17" stroke="#707070" stroke-width="0.8" />
<line x1="107.6" y1="698.17" x2="108.8" y2="698.17" stroke="#b0b0b0" stroke-width="0.7" />
<line x1="105" y1="700.91" x2="106.6" y2="700.91" stroke="#707070" stroke-width="0.8" />
<line x1="107.6" y1="700.91" x2="108.8" y2="700.91" stroke="#b0b0b0" stroke-width="0.7" />
<line x1="105" y1="703.64" x2="106.6" y2="703.64" stroke="#707070" stroke-width="0.8" />
<line x1="107.6" y1="703.64" x2="108.8" y2="703.64" stroke="#b0b0b0" stroke-width="0.7" />
<line x1="105" y1="706.38" x2="106.6" y2="706.38" stroke="#707070" stroke-width="0.8" />
<line x1="107.6" y1="706.38" x2="108.8" y2="706.38" stroke="#b0b0b0" stroke-width="0.7" />
<line x1="105" y1="709.11" x2="106.6" y2="709.11" stroke="#707070" stroke-width="0.8" />
<line x1="107.6" y1="709.11" x2="108.8" y2="709.11" stroke="#b0b0b0" stroke-width="0.7" />
<line x1="105" y1="711.85" x2="106.6" y2="711.85" stroke="#707070" stroke-width="0.8" />
<line x1="107.6" y1="711.85" x2="108.8" y2="711.85" stroke="#b0b0b0" stroke-width="0.7" />
<line x1="105" y1="714.58" x2="106.6" y2="714.58" stroke="#707070" stroke-width="0.8" />
<line x1="107.6" y1="714.58" x2="108.8" y2="714.58" stroke="#b0b0b0" stroke-width="0.7" />
<line x1="105" y1="717.32" x2="106.6" y2="717.32" stroke="#707070" stroke-width="0.8" />
<line x1="107.6" y1="717.32" x2="108.8" y2="717.32" stroke="#b0b0b0" stroke-width="0.7" />
<line x1="105" y1="720.05" x2="106.6" y2="720.05" stroke="#707070" stroke-width="0.8" />
<line x1="107.6" y1="720.05" x2="108.8" y2="720.05" stroke="#b0b0b0" stroke-width="0.7" />
<line x1="105" y1="722.79" x2="106.6" y2="722.79" stroke="#707070" stroke-width="0.8" />
<line x1="107.6" y1="722.79" x2="108.8" y2="722.79" stroke="#b0b0b0" stroke-width="0.7" />
<line x1="105" y1="725.52" x2="106.6" y2="725.52" stroke="#707070" stroke-width="0.8" />
<line x1="107.6" y1="725.52" x2="108.8" y2="725.52" stroke="#b0b0b0" stroke-width="0.7" />
<line x1="105" y1="728.26" x2="106.6" y2="728.26" stroke="#707070" stroke-width="0.8" />
<line x1="107.6" y1="728.26" x2="108.8" y2="728.26" stroke="#b0b0b0" stroke-width="0.7" />
<line x1="105" y1="730.99" x2="106.6" y2="730.99" stroke="#707070" stroke-width="0.8" />
<line x1="107.6" y1="730.99" x2="108.8" y2="730.99" stroke="#b0b0b0" stroke-width="0.7" />
<line x1="105" y1="733.73" x2="106.6" y2="733.73" stroke="#707070" stroke-width="0.8" />
<line x1="107.6" y1="733.73" x2="108.8" y2="733.73" stroke="#b0b0b0" stroke-width="0.7" />
<line x1="105" y1="736.46" x2="106.6" y2="736.46" stroke="#707070" stroke-width="0.8" />
<line x1="107.6" y1="736.46" x2="108.8" y2="736.46" stroke="#b0b0b0" stroke-width="0.7" />
<line x1="105" y1="739.2" x2="106.6" y2="739.2" stroke="#707070" stroke-width="0.8" />
<line x1="107.6" y1="739.2" x2="108.8" y2="739.2" stroke="#b0b0b0" stroke-width="0.7" />
<line x1="105" y1="741.93" x2="106.6" y2="741.93" stroke="#707070" stroke-width="0.8" />
<line x1="107.6" y1="741.93" x2="108.8" y2="741.93" stroke="#b0b0b0" stroke-width="0.7" />
<line x1="105" y1="744.67" x2="106.6" y2="744.67" stroke="#707070" stroke-width="0.8" />
<line x1="107.6" y1="744.67" x2="108.8" y2="744.67" stroke="#b0b0b0" stroke-width="0.7" />
<line x1="104" y1="747.4" x2="106.6" y2="747.4" stroke="#707070" stroke-width="0.8" />
<line x1="107.6" y1="747.4" x2="108.8" y2="747.4" stroke="#b0b0b0" stroke-width="0.7" />
<text x="103.6" y="694.9" font-family="Liberation Mono" font-size="6.4" font-weight="normal" text-anchor="end" fill="#262626" textLength="2.7" lengthAdjust="spacingAndGlyphs" >4</text>
<text x="103.6" y="708.9" font-family="Liberation Mono" font-size="6.4" font-weight="normal" text-anchor="end" fill="#262626" textLength="2.7" lengthAdjust="spacingAndGlyphs" >3</text>
<text x="103.6" y="722.7" font-family="Liberation Mono" font-size="6.4" font-weight="normal" text-anchor="end" fill="#262626" textLength="2.7" lengthAdjust="spacingAndGlyphs" >2</text>
<text x="103.6" y="736.5" font-family="Liberation Mono" font-size="6.4" font-weight="normal" text-anchor="end" fill="#262626" textLength="2.7" lengthAdjust="spacingAndGlyphs" >1</text>
<text x="103.6" y="749.6" font-family="Liberation Mono" font-size="6.4" font-weight="normal" text-anchor="end" fill="#262626" textLength="2.7" lengthAdjust="spacingAndGlyphs" >0</text>
<line x1="106.6" y1="413.3" x2="106.6" y2="749.4" stroke="#6a6a6a" stroke-width="1" />
<line x1="0" y1="413.3" x2="683" y2="413.3" stroke="#9e9e9e" stroke-width="1.1" />
<line x1="121.2" y1="410.5" x2="121.2" y2="413.3" stroke="#707070" stroke-width="0.8" />
<line x1="121.2" y1="752.4" x2="121.2" y2="754.9" stroke="#707070" stroke-width="0.8" />
<line x1="142.06" y1="411.5" x2="142.06" y2="413.3" stroke="#707070" stroke-width="0.8" />
<line x1="142.06" y1="752.4" x2="142.06" y2="753.9" stroke="#707070" stroke-width="0.8" />
<line x1="162.92" y1="411.5" x2="162.92" y2="413.3" stroke="#707070" stroke-width="0.8" />
<line x1="162.92" y1="752.4" x2="162.92" y2="753.9" stroke="#707070" stroke-width="0.8" />
<line x1="183.78" y1="411.5" x2="183.78" y2="413.3" stroke="#707070" stroke-width="0.8" />
<line x1="183.78" y1="752.4" x2="183.78" y2="753.9" stroke="#707070" stroke-width="0.8" />
<line x1="204.64" y1="411.5" x2="204.64" y2="413.3" stroke="#707070" stroke-width="0.8" />
<line x1="204.64" y1="752.4" x2="204.64" y2="753.9" stroke="#707070" stroke-width="0.8" />
<line x1="225.5" y1="410.5" x2="225.5" y2="413.3" stroke="#707070" stroke-width="0.8" />
<line x1="225.5" y1="752.4" x2="225.5" y2="754.9" stroke="#707070" stroke-width="0.8" />
<line x1="246.36" y1="411.5" x2="246.36" y2="413.3" stroke="#707070" stroke-width="0.8" />
<line x1="246.36" y1="752.4" x2="246.36" y2="753.9" stroke="#707070" stroke-width="0.8" />
<line x1="267.22" y1="411.5" x2="267.22" y2="413.3" stroke="#707070" stroke-width="0.8" />
<line x1="267.22" y1="752.4" x2="267.22" y2="753.9" stroke="#707070" stroke-width="0.8" />
<line x1="288.08" y1="411.5" x2="288.08" y2="413.3" stroke="#707070" stroke-width="0.8" />
<line x1="288.08" y1="752.4" x2="288.08" y2="753.9" stroke="#707070" stroke-width="0.8" />
<line x1="308.94" y1="411.5" x2="308.94" y2="413.3" stroke="#707070" stroke-width="0.8" />
<line x1="308.94" y1="752.4" x2="308.94" y2="753.9" stroke="#707070" stroke-width="0.8" />
<line x1="329.8" y1="410.5" x2="329.8" y2="413.3" stroke="#707070" stroke-width="0.8" />
<line x1="329.8" y1="752.4" x2="329.8" y2="754.9" stroke="#707070" stroke-width="0.8" />
<line x1="350.66" y1="411.5" x2="350.66" y2="413.3" stroke="#707070" stroke-width="0.8" />
<line x1="350.66" y1="752.4" x2="350.66" y2="753.9" stroke="#707070" stroke-width="0.8" />
<line x1="371.52" y1="411.5" x2="371.52" y2="413.3" stroke="#707070" stroke-width="0.8" />
<line x1="371.52" y1="752.4" x2="371.52" y2="753.9" stroke="#707070" stroke-width="0.8" />
<line x1="392.38" y1="411.5" x2="392.38" y2="413.3" stroke="#707070" stroke-width="0.8" />
<line x1="392.38" y1="752.4" x2="392.38" y2="753.9" stroke="#707070" stroke-width="0.8" />
<line x1="413.24" y1="411.5" x2="413.24" y2="413.3" stroke="#707070" stroke-width="0.8" />
<line x1="413.24" y1="752.4" x2="413.24" y2="753.9" stroke="#707070" stroke-width="0.8" />
<line x1="434.1" y1="410.5" x2="434.1" y2="413.3" stroke="#707070" stroke-width="0.8" />
<line x1="434.1" y1="752.4" x2="434.1" y2="754.9" stroke="#707070" stroke-width="0.8" />
<line x1="454.96" y1="411.5" x2="454.96" y2="413.3" stroke="#707070" stroke-width="0.8" />
<line x1="454.96" y1="752.4" x2="454.96" y2="753.9" stroke="#707070" stroke-width="0.8" />
<line x1="475.82" y1="411.5" x2="475.82" y2="413.3" stroke="#707070" stroke-width="0.8" />
<line x1="475.82" y1="752.4" x2="475.82" y2="753.9" stroke="#707070" stroke-width="0.8" />
<line x1="496.68" y1="411.5" x2="496.68" y2="413.3" stroke="#707070" stroke-width="0.8" />
<line x1="496.68" y1="752.4" x2="496.68" y2="753.9" stroke="#707070" stroke-width="0.8" />
<line x1="517.54" y1="411.5" x2="517.54" y2="413.3" stroke="#707070" stroke-width="0.8" />
<line x1="517.54" y1="752.4" x2="517.54" y2="753.9" stroke="#707070" stroke-width="0.8" />
<line x1="538.4" y1="410.5" x2="538.4" y2="413.3" stroke="#707070" stroke-width="0.8" />
<line x1="538.4" y1="752.4" x2="538.4" y2="754.9" stroke="#707070" stroke-width="0.8" />
<line x1="559.26" y1="411.5" x2="559.26" y2="413.3" stroke="#707070" stroke-width="0.8" />
<line x1="559.26" y1="752.4" x2="559.26" y2="753.9" stroke="#707070" stroke-width="0.8" />
<line x1="580.12" y1="411.5" x2="580.12" y2="413.3" stroke="#707070" stroke-width="0.8" />
<line x1="580.12" y1="752.4" x2="580.12" y2="753.9" stroke="#707070" stroke-width="0.8" />
<line x1="600.98" y1="411.5" x2="600.98" y2="413.3" stroke="#707070" stroke-width="0.8" />
<line x1="600.98" y1="752.4" x2="600.98" y2="753.9" stroke="#707070" stroke-width="0.8" />
<line x1="621.84" y1="411.5" x2="621.84" y2="413.3" stroke="#707070" stroke-width="0.8" />
<line x1="621.84" y1="752.4" x2="621.84" y2="753.9" stroke="#707070" stroke-width="0.8" />
<line x1="642.7" y1="410.5" x2="642.7" y2="413.3" stroke="#707070" stroke-width="0.8" />
<line x1="642.7" y1="752.4" x2="642.7" y2="754.9" stroke="#707070" stroke-width="0.8" />
<line x1="663.56" y1="411.5" x2="663.56" y2="413.3" stroke="#707070" stroke-width="0.8" />
<line x1="663.56" y1="752.4" x2="663.56" y2="753.9" stroke="#707070" stroke-width="0.8" />
<text x="121.2" y="410.2" font-family="Liberation Mono" font-size="7.2" font-weight="normal" text-anchor="middle" fill="#262626" textLength="18" lengthAdjust="spacingAndGlyphs" >2,826u</text>
<text x="121.2" y="761" font-family="Liberation Mono" font-size="7.2" font-weight="normal" text-anchor="middle" fill="#262626" textLength="18" lengthAdjust="spacingAndGlyphs" >2,826u</text>
<text x="225.5" y="410.2" font-family="Liberation Mono" font-size="7.2" font-weight="normal" text-anchor="middle" fill="#262626" textLength="18" lengthAdjust="spacingAndGlyphs" >2,828u</text>
<text x="225.5" y="761" font-family="Liberation Mono" font-size="7.2" font-weight="normal" text-anchor="middle" fill="#262626" textLength="18" lengthAdjust="spacingAndGlyphs" >2,828u</text>
<text x="329.8" y="410.2" font-family="Liberation Mono" font-size="7.2" font-weight="normal" text-anchor="middle" fill="#262626" textLength="15" lengthAdjust="spacingAndGlyphs" >2,83u</text>
<text x="329.8" y="761" font-family="Liberation Mono" font-size="7.2" font-weight="normal" text-anchor="middle" fill="#262626" textLength="15" lengthAdjust="spacingAndGlyphs" >2,83u</text>
<text x="434.1" y="410.2" font-family="Liberation Mono" font-size="7.2" font-weight="normal" text-anchor="middle" fill="#262626" textLength="18" lengthAdjust="spacingAndGlyphs" >2,832u</text>
<text x="434.1" y="761" font-family="Liberation Mono" font-size="7.2" font-weight="normal" text-anchor="middle" fill="#262626" textLength="18" lengthAdjust="spacingAndGlyphs" >2,832u</text>
<text x="538.4" y="410.2" font-family="Liberation Mono" font-size="7.2" font-weight="normal" text-anchor="middle" fill="#262626" textLength="18" lengthAdjust="spacingAndGlyphs" >2,834u</text>
<text x="538.4" y="761" font-family="Liberation Mono" font-size="7.2" font-weight="normal" text-anchor="middle" fill="#262626" textLength="18" lengthAdjust="spacingAndGlyphs" >2,834u</text>
<text x="642.7" y="410.2" font-family="Liberation Mono" font-size="7.2" font-weight="normal" text-anchor="middle" fill="#262626" textLength="18" lengthAdjust="spacingAndGlyphs" >2,836u</text>
<text x="642.7" y="761" font-family="Liberation Mono" font-size="7.2" font-weight="normal" text-anchor="middle" fill="#262626" textLength="18" lengthAdjust="spacingAndGlyphs" >2,836u</text>
<text x="1.8" y="760.8" font-family="Liberation Mono" font-size="7.2" font-weight="normal" text-anchor="start" fill="#262626" textLength="14.4" lengthAdjust="spacingAndGlyphs" >(1in)</text>
<line x1="0" y1="481.5" x2="683" y2="481.5" stroke="#a29ca6" stroke-width="1.2" />
<line x1="0" y1="548.5" x2="683" y2="548.5" stroke="#a29ca6" stroke-width="1.2" />
<line x1="0" y1="615.5" x2="683" y2="615.5" stroke="#a29ca6" stroke-width="1.2" />
<line x1="0" y1="682.7" x2="683" y2="682.7" stroke="#a29ca6" stroke-width="1.2" />
<rect x="0" y="749.2" width="683" height="3.3" fill="#cfc8d4" />
<line x1="0" y1="749.4" x2="683" y2="749.4" stroke="#b0a8b6" stroke-width="0.7" />
<line x1="0" y1="752.3" x2="683" y2="752.3" stroke="#b0a8b6" stroke-width="0.7" />
<rect x="82.2" y="413.6" width="1.5" height="337.4" fill="#684c7c" />
<rect x="83.7" y="413.6" width="1.3" height="337.4" fill="#a595b0" />
<rect x="85" y="413.6" width="6.8" height="337.4" fill="#3f413f" />
<rect x="85" y="413.6" width="0.9" height="337.4" fill="#575757" />
<rect x="90.1" y="413.6" width="1.7" height="337.4" fill="#75658a" />
<rect x="85" y="413.8" width="5.1" height="4.4" fill="#5e5e5e" />
<line x1="85" y1="418.2" x2="90.1" y2="418.2" stroke="#8a8a8a" stroke-width="0.8" />
<path d="M85.65,417.6 L87.55,414.4 L89.45,417.6Z" fill="#9a9a9a" opacity="0.8"/>
<rect x="85" y="476.9" width="5.1" height="4.4" fill="#5e5e5e" />
<line x1="85" y1="476.9" x2="90.1" y2="476.9" stroke="#8a8a8a" stroke-width="0.8" />
<path d="M85.65,477.5 L87.55,480.7 L89.45,477.5Z" fill="#9a9a9a" opacity="0.8"/>
<rect x="85" y="481.7" width="5.1" height="4.4" fill="#5e5e5e" />
<line x1="85" y1="486.1" x2="90.1" y2="486.1" stroke="#8a8a8a" stroke-width="0.8" />
<path d="M85.65,485.5 L87.55,482.3 L89.45,485.5Z" fill="#9a9a9a" opacity="0.8"/>
<rect x="85" y="543.9" width="5.1" height="4.4" fill="#5e5e5e" />
<line x1="85" y1="543.9" x2="90.1" y2="543.9" stroke="#8a8a8a" stroke-width="0.8" />
<path d="M85.65,544.5 L87.55,547.7 L89.45,544.5Z" fill="#9a9a9a" opacity="0.8"/>
<rect x="85" y="548.7" width="5.1" height="4.4" fill="#5e5e5e" />
<line x1="85" y1="553.1" x2="90.1" y2="553.1" stroke="#8a8a8a" stroke-width="0.8" />
<path d="M85.65,552.5 L87.55,549.3 L89.45,552.5Z" fill="#9a9a9a" opacity="0.8"/>
<rect x="85" y="610.9" width="5.1" height="4.4" fill="#5e5e5e" />
<line x1="85" y1="610.9" x2="90.1" y2="610.9" stroke="#8a8a8a" stroke-width="0.8" />
<path d="M85.65,611.5 L87.55,614.7 L89.45,611.5Z" fill="#9a9a9a" opacity="0.8"/>
<rect x="85" y="615.7" width="5.1" height="4.4" fill="#5e5e5e" />
<line x1="85" y1="620.1" x2="90.1" y2="620.1" stroke="#8a8a8a" stroke-width="0.8" />
<path d="M85.65,619.5 L87.55,616.3 L89.45,619.5Z" fill="#9a9a9a" opacity="0.8"/>
<rect x="85" y="678.1" width="5.1" height="4.4" fill="#5e5e5e" />
<line x1="85" y1="678.1" x2="90.1" y2="678.1" stroke="#8a8a8a" stroke-width="0.8" />
<path d="M85.65,678.7 L87.55,681.9 L89.45,678.7Z" fill="#9a9a9a" opacity="0.8"/>
<rect x="85" y="682.9" width="5.1" height="4.4" fill="#5e5e5e" />
<line x1="85" y1="687.3" x2="90.1" y2="687.3" stroke="#8a8a8a" stroke-width="0.8" />
<path d="M85.65,686.7 L87.55,683.5 L89.45,686.7Z" fill="#9a9a9a" opacity="0.8"/>
<rect x="85" y="746.4" width="5.1" height="4.4" fill="#5e5e5e" />
<line x1="85" y1="746.4" x2="90.1" y2="746.4" stroke="#8a8a8a" stroke-width="0.8" />
<path d="M85.65,747 L87.55,750.2 L89.45,747Z" fill="#9a9a9a" opacity="0.8"/>
<rect x="85" y="495" width="5" height="48.6" fill="#686a68" />
<rect x="7.2" y="415" width="62.3" height="5.3" fill="#a756a8" />
<text x="7.8" y="419.65" font-family="Liberation Mono" font-size="6" font-weight="normal" text-anchor="start" fill="#f2eaf6" textLength="40.32" lengthAdjust="spacingAndGlyphs" >GATE tran,tran</text>
<rect x="8" y="483.2" width="2.6" height="2.6" fill="#3a8a80" />
<rect x="12.3" y="482.4" width="62.3" height="5.2" fill="#4c4fae" />
<text x="12.9" y="487" font-family="Liberation Mono" font-size="6" font-weight="normal" text-anchor="start" fill="#f2eaf6" textLength="60.48" lengthAdjust="spacingAndGlyphs" >EON,01VD-01PW_VIN EON</text>
<rect x="8" y="551" width="2.6" height="2.6" fill="#3a8a80" />
<rect x="12.3" y="550.2" width="62.3" height="4.6" fill="#a756a8" />
<text x="12.9" y="554.5" font-family="Liberation Mono" font-size="6" font-weight="normal" text-anchor="start" fill="#f2eaf6" textLength="48.96" lengthAdjust="spacingAndGlyphs" >EON,01VD-01RS EON</text>
<rect x="8" y="617.8" width="2.6" height="2.6" fill="#3a8a80" />
<rect x="12.3" y="617" width="62.3" height="4.8" fill="#4c4fae" />
<text x="12.9" y="621.4" font-family="Liberation Mono" font-size="6" font-weight="normal" text-anchor="start" fill="#f2eaf6" textLength="43.2" lengthAdjust="spacingAndGlyphs" >V125p tran,tran</text>
<rect x="8" y="685.4" width="2.6" height="2.6" fill="#3a8a80" />
<rect x="12.3" y="684.6" width="62.3" height="4.8" fill="#a756a8" />
<text x="12.9" y="689" font-family="Liberation Mono" font-size="6" font-weight="normal" text-anchor="start" fill="#f2eaf6" textLength="54.72" lengthAdjust="spacingAndGlyphs" >EON,01GATE-01RS EON</text>
<text x="38.2" y="460.8" font-family="Liberation Serif" font-size="31.5" font-weight="bold" text-anchor="middle" fill="#000"  stroke="#000" stroke-width="0.35">VG</text>
<text x="40" y="522.7" font-family="Liberation Serif" font-size="31.5" font-weight="bold" text-anchor="middle" fill="#000"  stroke="#000" stroke-width="0.35">VD</text>
<text x="39.4" y="591.1" font-family="Liberation Serif" font-size="31.5" font-weight="bold" text-anchor="middle" fill="#000"  stroke="#000" stroke-width="0.35">VDS</text>
<text x="38.8" y="658.6" font-family="Liberation Serif" font-size="31.5" font-weight="bold" text-anchor="middle" fill="#000"  stroke="#000" stroke-width="0.35">Imos</text>
<text x="42.4" y="723.9" font-family="Liberation Serif" font-size="31.5" font-weight="bold" text-anchor="middle" fill="#000"  stroke="#000" stroke-width="0.35">VGS</text>
<path d="M107.6,478.9 C131.13,478.9 154.69,479.92 178.2,478.9 C181.67,478.75 184.7,476.48 188,475.4 C194.2,473.38 200.49,471.61 206.7,469.6 C212.96,467.58 219.28,465.71 225.4,463.3 C230.2,461.41 234.73,458.89 239.4,456.7 C244.06,454.52 248.88,452.66 253.4,450.2 C257.47,447.98 261.16,445.14 265.1,442.7 C268.96,440.31 272.9,438.03 276.8,435.7 C280.7,433.37 284.39,430.65 288.5,428.7 C292.23,426.93 296.17,425.51 300.2,424.6 C304.92,423.53 309.77,423.13 314.6,422.8 C319.46,422.47 324.34,422.4 329.2,422.6 C334.08,422.8 338.98,423.19 343.8,424 C348.74,424.83 353.57,426.19 358.4,427.5 C363.31,428.83 368.11,430.53 373,431.9 C377.84,433.26 382.63,434.91 387.6,435.7 C394.34,436.78 401.17,437.38 408,437.5 C412.88,437.58 417.75,436.88 422.6,436.3 C427.49,435.71 432.33,434.73 437.2,434 C442.06,433.27 446.94,432.61 451.8,431.9 C457.64,431.05 463.46,430.13 469.3,429.3 C475.16,428.46 481.01,427.52 486.9,426.9 C495.98,425.95 505.1,425.37 514.2,424.6 C522,423.94 529.79,423.15 537.6,422.6 C549.26,421.78 560.93,421.1 572.6,420.5 C582.33,420 592.06,419.62 601.8,419.3 C615.43,418.85 629.07,418.55 642.7,418.2 C656.13,417.85 669.57,417.53 683,417.2" fill="none" stroke="#8c5292" stroke-width="1.35" stroke-linejoin="round" stroke-linecap="round" />
<path d="M107.6,483.3 C151.73,483.27 195.87,483.11 240,483.2 C243.4,483.21 246.8,483.42 250.2,483.6 C253.6,483.78 257.03,483.77 260.4,484.3 C262.53,484.64 264.66,485.25 266.6,486.2 C268.8,487.27 270.81,488.74 272.7,490.3 C274.56,491.83 276.14,493.66 277.8,495.4 C279.87,497.56 282.24,499.51 283.9,502 C285.68,504.67 286.72,507.76 288,510.7 C289.46,514.06 290.79,517.48 292.1,520.9 C293.52,524.61 294.96,528.32 296.2,532.1 C297.7,536.66 298.93,541.3 300.3,545.9" fill="none" stroke="#5058a8" stroke-width="1.35" stroke-linejoin="round" stroke-linecap="round" />
<path d="M107.6,550.6 C151.73,550.63 195.87,550.56 240,550.7 C247.3,550.72 254.61,550.64 261.9,551.1 C266.8,551.41 271.66,552.17 276.5,553 C280.84,553.74 285.21,554.46 289.4,555.8 C292.55,556.81 295.48,558.43 298.4,560 C303.36,562.67 308.14,565.65 313,568.5 C318.27,571.59 323.58,574.62 328.8,577.8 C333.45,580.63 338.01,583.58 342.6,586.5 C346.75,589.14 350.76,592.01 355,594.5 C359.3,597.02 363.7,599.37 368.2,601.5 C372.37,603.47 376.64,605.28 381,606.8 C385.42,608.35 389.92,609.7 394.5,610.7 C398.81,611.64 403.21,612.2 407.6,612.6 C411.72,612.97 415.86,612.99 420,613 C507.67,613.13 595.33,613 683,613" fill="none" stroke="#8c5292" stroke-width="1.35" stroke-linejoin="round" stroke-linecap="round" />
<path d="M107.6,680.6 C151.73,680.53 195.87,680.62 240,680.4 C242.44,680.39 244.9,680.34 247.3,679.9 C249.8,679.44 252.37,678.92 254.6,677.7 C257.33,676.21 259.75,674.15 261.9,671.9 C264.66,669.01 266.88,665.65 269.2,662.4 C271.75,658.82 274.12,655.1 276.5,651.4 C278.99,647.53 281.25,643.52 283.8,639.7 C286.12,636.22 288.36,632.66 291.1,629.5 C293.25,627.02 295.71,624.78 298.4,622.9 C300.62,621.35 303.08,620.02 305.7,619.3 C309.23,618.33 312.94,617.9 316.6,617.9 C320.3,617.9 324.01,618.44 327.6,619.3 C331.84,620.32 336.13,621.48 340,623.5 C344.28,625.73 347.95,628.99 351.8,631.9 C355.75,634.89 359.62,637.99 363.4,641.2 C367.39,644.59 370.9,648.56 375.1,651.7 C378.74,654.42 382.81,656.53 386.8,658.7 C390.61,660.77 394.46,662.81 398.5,664.4 C402.29,665.89 406.2,667.16 410.2,667.9 C414.01,668.6 417.93,668.58 421.8,668.7 C427.86,668.88 433.93,668.8 440,668.8 C521,668.83 602,668.8 683,668.8" fill="none" stroke="#5058a8" stroke-width="1.35" stroke-linejoin="round" stroke-linecap="round" />
<path d="M107.6,747.2 C132.3,747.2 157,747.69 181.7,747.2 C183.71,747.16 185.61,746.28 187.5,745.6 C191.45,744.18 195.34,742.55 199.2,740.9 C203.14,739.22 207,737.37 210.9,735.6 C215.57,733.47 220.22,731.3 224.9,729.2 C229.15,727.3 233.36,725.29 237.7,723.6 C240.83,722.38 244.13,721.63 247.3,720.5 C249.77,719.62 252.13,718.46 254.6,717.6 C257,716.76 259.47,716.13 261.9,715.4 C264.33,714.67 266.75,713.87 269.2,713.2 C271.62,712.54 274.06,711.95 276.5,711.4 C278.92,710.85 281.34,710.27 283.8,709.9 C286.22,709.54 288.67,709.42 291.1,709.2 C293.53,708.98 295.96,708.76 298.4,708.6 C303.26,708.29 308.13,708.02 313,707.8 C317.86,707.58 322.73,707.43 327.6,707.3 C332.87,707.16 338.13,706.88 343.4,707 C351.17,707.18 358.94,707.68 366.7,708.2 C374.48,708.72 382.21,709.79 390,710.1 C396.26,710.35 402.55,710.36 408.8,709.9 C414.28,709.49 419.68,708.37 425.1,707.5 C432.91,706.24 440.66,704.6 448.5,703.5 C458.97,702.03 469.49,700.93 480,699.8 C497.69,697.9 515.36,695.75 533.1,694.4 C550.84,693.05 568.63,692.5 586.4,691.7 C604.16,690.9 621.93,690.19 639.7,689.6 C654.13,689.12 668.57,688.87 683,688.5" fill="none" stroke="#8c5292" stroke-width="1.35" stroke-linejoin="round" stroke-linecap="round" />
<line x1="176" y1="476.7" x2="180.4" y2="481.1" stroke="#484848" stroke-width="1.1" />
<line x1="176" y1="481.1" x2="180.4" y2="476.7" stroke="#484848" stroke-width="1.1" />
<polyline points="178.2,478.9 252.1,462.5 252.1,467.8" fill="none" stroke="#3c3c3c" stroke-width="0.8" stroke-linejoin="round" />
<rect x="252.1" y="467.8" width="91.1" height="8.7" fill="#634478" />
<rect x="252.9" y="468.6" width="7.5" height="7.1" fill="#3e3040" />
<path d="M253.9,472.45 q1.5,-2.2 3,0 t3,0" fill="none" stroke="#c8d060" stroke-width="1.1"/>
<text x="262.1" y="474.45" font-family="Liberation Mono" font-size="6.6" font-weight="normal" text-anchor="start" fill="#ddd2e4" textLength="37.96" lengthAdjust="spacingAndGlyphs" >X:2,8271u Y:0</text>
<line x1="281.1" y1="499.4" x2="285.5" y2="503.8" stroke="#484848" stroke-width="1.1" />
<line x1="281.1" y1="503.8" x2="285.5" y2="499.4" stroke="#484848" stroke-width="1.1" />
<polyline points="283.3,501.6 312.6,501 312.6,505.9" fill="none" stroke="#3c3c3c" stroke-width="0.8" stroke-linejoin="round" />
<rect x="312.6" y="505.9" width="91.6" height="9.2" fill="#634478" />
<rect x="313.4" y="506.7" width="7.5" height="7.6" fill="#3e3040" />
<path d="M314.4,510.8 q1.5,-2.2 3,0 t3,0" fill="none" stroke="#c8d060" stroke-width="1.1"/>
<text x="322.6" y="512.8" font-family="Liberation Mono" font-size="6.6" font-weight="normal" text-anchor="start" fill="#ddd2e4" textLength="37.96" lengthAdjust="spacingAndGlyphs" >X:2.8290u Y:0</text>
<line x1="314.4" y1="615.8" x2="318.8" y2="620.2" stroke="#484848" stroke-width="1.1" />
<line x1="314.4" y1="620.2" x2="318.8" y2="615.8" stroke="#484848" stroke-width="1.1" />
<polyline points="316.6,618 405,626.5 405,632" fill="none" stroke="#3c3c3c" stroke-width="0.8" stroke-linejoin="round" />
<rect x="405" y="632" width="91.3" height="8.5" fill="#634478" />
<rect x="405.8" y="632.8" width="7.5" height="6.9" fill="#3e3040" />
<path d="M406.8,636.55 q1.5,-2.2 3,0 t3,0" fill="none" stroke="#c8d060" stroke-width="1.1"/>
<text x="415" y="638.55" font-family="Liberation Mono" font-size="6.6" font-weight="normal" text-anchor="start" fill="#ddd2e4" textLength="52.56" lengthAdjust="spacingAndGlyphs" >X:2,8298u Y:1,7828</text>
<line x1="459.8" y1="666.6" x2="464.2" y2="671" stroke="#484848" stroke-width="1.1" />
<line x1="459.8" y1="671" x2="464.2" y2="666.6" stroke="#484848" stroke-width="1.1" />
<polyline points="462,668.8 518.2,651.2 518.2,656.6" fill="none" stroke="#3c3c3c" stroke-width="0.8" stroke-linejoin="round" />
<rect x="518.2" y="656.6" width="91.4" height="8.4" fill="#634478" />
<rect x="519" y="657.4" width="7.5" height="6.8" fill="#3e3040" />
<path d="M520,661.1 q1.5,-2.2 3,0 t3,0" fill="none" stroke="#c8d060" stroke-width="1.1"/>
<text x="528.2" y="663.1" font-family="Liberation Mono" font-size="6.6" font-weight="normal" text-anchor="start" fill="#ddd2e4" textLength="52.56" lengthAdjust="spacingAndGlyphs" >X:2.8325u Y:329.4m</text>
<line x1="182.78" y1="501.8" x2="272.32" y2="501.8" stroke="#000" stroke-width="2.7" />
<path d="M177.5,501.8 L186.3,498.7 L184.1,501.8 L186.3,504.9Z" fill="#000"/>
<path d="M277.6,501.8 L268.8,498.7 L271,501.8 L268.8,504.9Z" fill="#000"/>
<path d="M192,510.6 L200.8,530.5 L183,530.5Z M191.21,515.5 L185.29,528.6 L197.01,528.6Z" fill="#000" fill-rule="evenodd"/>
<text x="201.4" y="530.6" font-family="Liberation Serif" font-size="31" font-weight="bold" text-anchor="start" fill="#000" textLength="75" lengthAdjust="spacingAndGlyphs"  stroke="#000" stroke-width="0.35">t=2ns</text>
<text x="134.6" y="641.7" font-family="Liberation Serif" font-size="31.5" font-weight="bold" text-anchor="start" fill="#000" textLength="142.2" lengthAdjust="spacingAndGlyphs"  stroke="#000" stroke-width="0.35">Ipk=1.78A</text>
<line x1="188.6" y1="683.1" x2="455.5" y2="683.1" stroke="#000" stroke-width="2.4" />
<path d="M182.6,683.1 L192.6,679.8 L190.1,683.1 L192.6,686.4Z" fill="#000"/>
<path d="M461.5,683.1 L451.5,679.8 L454,683.1 L451.5,686.4Z" fill="#000"/>
<text x="178.4" y="703.8" font-family="Liberation Serif" font-size="23" font-weight="bold" text-anchor="start" fill="#000" textLength="250.7" lengthAdjust="spacingAndGlyphs"  stroke="#000" stroke-width="0.35">Switching interval=5.4ns</text>
<text x="355.1" y="385.2" font-family="Liberation Serif" font-size="20" font-weight="normal" text-anchor="middle" fill="#000" >(a)</text>
<text x="355.3" y="794.3" font-family="Liberation Serif" font-size="20" font-weight="normal" text-anchor="middle" fill="#000" >(b)</text>
</svg>
</body></html>
